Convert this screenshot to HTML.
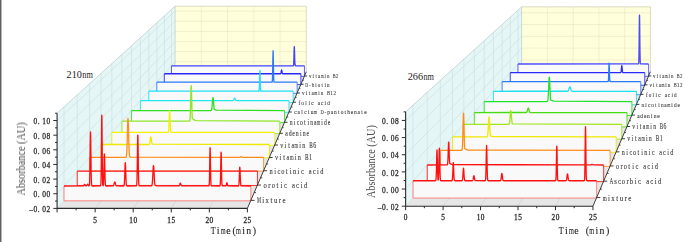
<!DOCTYPE html>
<html><head><meta charset="utf-8"><style>
html,body{margin:0;padding:0;background:#fff;}
body{width:685px;height:242px;overflow:hidden;position:relative;font-family:"Liberation Sans",sans-serif;}
svg{position:absolute;left:0;top:0;display:block;}
</style></head><body>
<svg width="685" height="242" viewBox="0 0 685 242">
<defs><filter id="tb" x="-20%" y="-50%" width="140%" height="200%"><feGaussianBlur stdDeviation="0.3"/></filter></defs>
<rect x="0" y="0" width="685" height="242" fill="#fff"/>
<rect x="0" y="0" width="1" height="242" fill="#5c6068"/>
<rect x="1" y="0" width="1" height="242" fill="#b4b6ba"/>
<polygon points="57.08,208.39 57.08,113.19 175.13,6.2 175.13,71.8" fill="#e5f6f6"/>
<polygon points="175.13,71.8 175.13,6.2 306.27,6.2 306.27,71.8" fill="#ffffdc"/>
<polygon points="57.08,208.39 247.38,208.39 306.27,71.8 175.13,71.8" fill="#e6e6e6"/>
<line x1="57.08" y1="208.39" x2="175.13" y2="71.8" stroke="#cadede" stroke-width="0.6"/>
<line x1="57.08" y1="193.74" x2="175.13" y2="61.71" stroke="#cadede" stroke-width="0.6"/>
<line x1="57.08" y1="179.09" x2="175.13" y2="51.61" stroke="#cadede" stroke-width="0.6"/>
<line x1="57.08" y1="164.45" x2="175.13" y2="41.52" stroke="#cadede" stroke-width="0.6"/>
<line x1="57.08" y1="149.8" x2="175.13" y2="31.43" stroke="#cadede" stroke-width="0.6"/>
<line x1="57.08" y1="135.16" x2="175.13" y2="21.34" stroke="#cadede" stroke-width="0.6"/>
<line x1="57.08" y1="120.51" x2="175.13" y2="11.24" stroke="#cadede" stroke-width="0.6"/>
<line x1="64.01" y1="200.37" x2="64.01" y2="106.91" stroke="#cadede" stroke-width="0.6"/>
<line x1="77.25" y1="185.05" x2="77.25" y2="94.91" stroke="#cadede" stroke-width="0.6"/>
<line x1="89.58" y1="170.78" x2="89.58" y2="83.73" stroke="#cadede" stroke-width="0.6"/>
<line x1="101.1" y1="157.46" x2="101.1" y2="73.3" stroke="#cadede" stroke-width="0.6"/>
<line x1="111.87" y1="144.99" x2="111.87" y2="63.53" stroke="#cadede" stroke-width="0.6"/>
<line x1="121.98" y1="133.3" x2="121.98" y2="54.37" stroke="#cadede" stroke-width="0.6"/>
<line x1="131.47" y1="122.31" x2="131.47" y2="45.76" stroke="#cadede" stroke-width="0.6"/>
<line x1="140.41" y1="111.97" x2="140.41" y2="37.66" stroke="#cadede" stroke-width="0.6"/>
<line x1="148.84" y1="102.21" x2="148.84" y2="30.02" stroke="#cadede" stroke-width="0.6"/>
<line x1="156.81" y1="93" x2="156.81" y2="22.8" stroke="#cadede" stroke-width="0.6"/>
<line x1="164.34" y1="84.28" x2="164.34" y2="15.97" stroke="#cadede" stroke-width="0.6"/>
<line x1="171.48" y1="76.02" x2="171.48" y2="9.5" stroke="#cadede" stroke-width="0.6"/>
<line x1="175.13" y1="71.8" x2="306.27" y2="71.8" stroke="#e6e6c4" stroke-width="0.6"/>
<line x1="175.13" y1="61.71" x2="306.27" y2="61.71" stroke="#e6e6c4" stroke-width="0.6"/>
<line x1="175.13" y1="51.61" x2="306.27" y2="51.61" stroke="#e6e6c4" stroke-width="0.6"/>
<line x1="175.13" y1="41.52" x2="306.27" y2="41.52" stroke="#e6e6c4" stroke-width="0.6"/>
<line x1="175.13" y1="31.43" x2="306.27" y2="31.43" stroke="#e6e6c4" stroke-width="0.6"/>
<line x1="175.13" y1="21.34" x2="306.27" y2="21.34" stroke="#e6e6c4" stroke-width="0.6"/>
<line x1="175.13" y1="11.24" x2="306.27" y2="11.24" stroke="#e6e6c4" stroke-width="0.6"/>
<line x1="201.36" y1="71.8" x2="201.36" y2="6.2" stroke="#e6e6c4" stroke-width="0.6"/>
<line x1="227.58" y1="71.8" x2="227.58" y2="6.2" stroke="#e6e6c4" stroke-width="0.6"/>
<line x1="253.81" y1="71.8" x2="253.81" y2="6.2" stroke="#e6e6c4" stroke-width="0.6"/>
<line x1="280.04" y1="71.8" x2="280.04" y2="6.2" stroke="#e6e6c4" stroke-width="0.6"/>
<line x1="95.14" y1="208.39" x2="201.36" y2="71.8" stroke="#cfcfcf" stroke-width="0.6"/>
<line x1="133.2" y1="208.39" x2="227.58" y2="71.8" stroke="#cfcfcf" stroke-width="0.6"/>
<line x1="171.26" y1="208.39" x2="253.81" y2="71.8" stroke="#cfcfcf" stroke-width="0.6"/>
<line x1="209.32" y1="208.39" x2="280.04" y2="71.8" stroke="#cfcfcf" stroke-width="0.6"/>
<line x1="57.08" y1="113.19" x2="175.13" y2="6.2" stroke="#b8c8c8" stroke-width="0.7"/>
<line x1="175.13" y1="6.2" x2="306.27" y2="6.2" stroke="#d6d6c0" stroke-width="0.9"/>
<line x1="306.27" y1="6.2" x2="306.27" y2="71.8" stroke="#d6d6c0" stroke-width="0.9"/>
<line x1="175.13" y1="6.2" x2="175.13" y2="71.8" stroke="#b8c8c8" stroke-width="0.7"/>
<polygon points="171.48,65.78 293.2,65.76 293.28,65.72 293.37,65.62 293.46,65.39 293.55,64.93 293.64,64.08 293.73,62.66 293.82,60.52 293.9,57.67 293.99,54.32 294.08,50.94 294.17,48.17 294.26,46.63 294.35,46.69 294.44,48.35 294.53,51.2 294.61,54.6 294.7,57.92 294.79,60.72 294.88,62.79 294.97,64.17 295.06,64.98 295.15,65.42 295.23,65.63 295.32,65.72 295.41,65.76 304.45,65.78 304.45,76.32 171.48,76.32" fill="#f9f9f9"/>
<polyline points="171.48,65.78 171.48,76.32 304.45,76.32 304.45,65.78" fill="none" stroke="#4242ff" stroke-width="1.0" opacity="0.85"/>
<polyline points="171.48,65.78 293.2,65.76 293.28,65.72 293.37,65.62 293.46,65.39 293.55,64.93 293.64,64.08 293.73,62.66 293.82,60.52 293.9,57.67 293.99,54.32 294.08,50.94 294.17,48.17 294.26,46.63 294.35,46.69 294.44,48.35 294.53,51.2 294.61,54.6 294.7,57.92 294.79,60.72 294.88,62.79 294.97,64.17 295.06,64.98 295.15,65.42 295.23,65.63 295.32,65.72 295.41,65.76 304.45,65.78" fill="none" stroke="#4242ff" stroke-width="1.3" stroke-linejoin="round"/>
<polygon points="164.34,73.77 280.5,73.74 280.59,73.71 280.68,73.65 280.77,73.54 280.86,73.35 280.95,73.07 281.05,72.68 281.14,72.18 281.23,71.6 281.32,71 281.41,70.47 281.5,70.1 281.59,69.95 281.68,70.06 281.77,70.39 281.87,70.9 281.96,71.49 282.05,72.08 282.14,72.6 282.23,73.01 282.32,73.31 282.41,73.51 282.5,73.63 282.59,73.7 282.68,73.74 300.89,73.77 300.89,84.59 164.34,84.59" fill="#f9f9f9"/>
<polyline points="164.34,73.77 164.34,84.59 300.89,84.59 300.89,73.77" fill="none" stroke="#2828f8" stroke-width="1.0" opacity="0.85"/>
<polyline points="164.34,73.77 280.5,73.74 280.59,73.71 280.68,73.65 280.77,73.54 280.86,73.35 280.95,73.07 281.05,72.68 281.14,72.18 281.23,71.6 281.32,71 281.41,70.47 281.5,70.1 281.59,69.95 281.68,70.06 281.77,70.39 281.87,70.9 281.96,71.49 282.05,72.08 282.14,72.6 282.23,73.01 282.32,73.31 282.41,73.51 282.5,73.63 282.59,73.7 282.68,73.74 300.89,73.77" fill="none" stroke="#2828f8" stroke-width="1.3" stroke-linejoin="round"/>
<polygon points="156.81,82.2 271.97,82.17 272.06,82.12 272.15,81.98 272.25,81.65 272.34,80.92 272.43,79.52 272.53,77.1 272.62,73.4 272.71,68.41 272.81,62.6 272.9,56.91 273,52.61 273.09,50.77 273.18,51.92 273.28,55.72 273.37,61.2 273.46,67.08 273.56,72.33 273.65,76.35 273.74,79.05 273.84,80.66 273.93,81.52 274.02,81.93 274.12,82.1 274.21,82.17 274.31,82.19 297.13,82.2 297.13,93.32 156.81,93.32" fill="#f9f9f9"/>
<polyline points="156.81,82.2 156.81,93.32 297.13,93.32 297.13,82.2" fill="none" stroke="#2a7af8" stroke-width="1.0" opacity="0.85"/>
<polyline points="156.81,82.2 271.97,82.17 272.06,82.12 272.15,81.98 272.25,81.65 272.34,80.92 272.43,79.52 272.53,77.1 272.62,73.4 272.71,68.41 272.81,62.6 272.9,56.91 273,52.61 273.09,50.77 273.18,51.92 273.28,55.72 273.37,61.2 273.46,67.08 273.56,72.33 273.65,76.35 273.74,79.05 273.84,80.66 273.93,81.52 274.02,81.93 274.12,82.1 274.21,82.17 274.31,82.19 297.13,82.2" fill="none" stroke="#2a7af8" stroke-width="1.3" stroke-linejoin="round"/>
<polygon points="148.84,91.11 258.81,91.08 258.91,91.02 259,90.87 259.1,90.52 259.2,89.8 259.29,88.47 259.39,86.3 259.48,83.21 259.58,79.41 259.68,75.46 259.77,72.23 259.87,70.56 259.96,70.93 260.06,73.23 260.16,76.81 260.25,80.79 260.35,84.39 260.45,87.17 260.54,89.02 260.64,90.11 260.73,90.68 260.83,90.94 260.93,91.05 261.02,91.09 293.16,91.11 293.16,102.55 148.84,102.55" fill="#f9f9f9"/>
<polyline points="148.84,91.11 148.84,102.55 293.16,102.55 293.16,91.11" fill="none" stroke="#22ddf8" stroke-width="1.0" opacity="0.85"/>
<polyline points="148.84,91.11 258.81,91.08 258.91,91.02 259,90.87 259.1,90.52 259.2,89.8 259.29,88.47 259.39,86.3 259.48,83.21 259.58,79.41 259.68,75.46 259.77,72.23 259.87,70.56 259.96,70.93 260.06,73.23 260.16,76.81 260.25,80.79 260.35,84.39 260.45,87.17 260.54,89.02 260.64,90.11 260.73,90.68 260.83,90.94 260.93,91.05 261.02,91.09 293.16,91.11" fill="none" stroke="#22ddf8" stroke-width="1.3" stroke-linejoin="round"/>
<polygon points="140.41,100.54 233,100.49 233.1,100.47 233.2,100.43 233.3,100.37 233.4,100.3 233.5,100.2 233.6,100.08 233.69,99.93 233.79,99.74 233.89,99.53 233.99,99.3 234.09,99.05 234.19,98.81 234.29,98.57 234.39,98.37 234.49,98.2 234.59,98.09 234.68,98.05 234.78,98.07 234.88,98.16 234.98,98.31 235.08,98.5 235.18,98.73 235.28,98.97 235.38,99.22 235.48,99.46 235.58,99.68 235.67,99.87 235.77,100.04 235.87,100.17 235.97,100.27 236.07,100.35 236.17,100.41 236.27,100.46 236.37,100.48 288.95,100.54 288.95,112.31 140.41,112.31" fill="#f9f9f9"/>
<polyline points="140.41,100.54 140.41,112.31 288.95,112.31 288.95,100.54" fill="none" stroke="#20e8ee" stroke-width="1.0" opacity="0.85"/>
<polyline points="140.41,100.54 233,100.49 233.1,100.47 233.2,100.43 233.3,100.37 233.4,100.3 233.5,100.2 233.6,100.08 233.69,99.93 233.79,99.74 233.89,99.53 233.99,99.3 234.09,99.05 234.19,98.81 234.29,98.57 234.39,98.37 234.49,98.2 234.59,98.09 234.68,98.05 234.78,98.07 234.88,98.16 234.98,98.31 235.08,98.5 235.18,98.73 235.28,98.97 235.38,99.22 235.48,99.46 235.58,99.68 235.67,99.87 235.77,100.04 235.87,100.17 235.97,100.27 236.07,100.35 236.17,100.41 236.27,100.46 236.37,100.48 288.95,100.54" fill="none" stroke="#20e8ee" stroke-width="1.3" stroke-linejoin="round"/>
<polygon points="131.47,110.54 210.94,110.5 211.04,110.47 211.14,110.43 211.25,110.35 211.35,110.24 211.45,110.07 211.55,109.83 211.65,109.49 211.76,109.02 211.86,108.41 211.96,107.65 212.06,106.71 212.16,105.62 212.27,104.39 212.37,103.08 212.47,101.75 212.57,100.47 212.67,99.33 212.78,98.42 212.88,97.82 212.98,97.56 213.08,97.67 213.18,98.15 213.29,98.94 213.39,100 213.49,101.23 213.59,102.56 213.69,103.88 213.8,105.15 213.9,106.3 214,107.3 214.1,108.13 214.2,108.8 214.31,109.32 214.41,109.43 214.51,109.47 214.61,109.51 214.71,109.55 214.82,109.59 214.92,109.63 215.02,109.67 215.12,109.7 215.22,109.74 215.33,109.77 215.43,109.8 215.53,109.83 215.63,109.86 215.73,109.88 215.84,109.91 215.94,109.93 216.04,109.96 216.14,109.98 216.24,110 216.35,110.02 216.45,110.04 284.49,110.54 284.49,122.67 131.47,122.67" fill="#f9f9f9"/>
<polyline points="131.47,110.54 131.47,122.67 284.49,122.67 284.49,110.54" fill="none" stroke="#30e020" stroke-width="1.0" opacity="0.85"/>
<polyline points="131.47,110.54 210.94,110.5 211.04,110.47 211.14,110.43 211.25,110.35 211.35,110.24 211.45,110.07 211.55,109.83 211.65,109.49 211.76,109.02 211.86,108.41 211.96,107.65 212.06,106.71 212.16,105.62 212.27,104.39 212.37,103.08 212.47,101.75 212.57,100.47 212.67,99.33 212.78,98.42 212.88,97.82 212.98,97.56 213.08,97.67 213.18,98.15 213.29,98.94 213.39,100 213.49,101.23 213.59,102.56 213.69,103.88 213.8,105.15 213.9,106.3 214,107.3 214.1,108.13 214.2,108.8 214.31,109.32 214.41,109.43 214.51,109.47 214.61,109.51 214.71,109.55 214.82,109.59 214.92,109.63 215.02,109.67 215.12,109.7 215.22,109.74 215.33,109.77 215.43,109.8 215.53,109.83 215.63,109.86 215.73,109.88 215.84,109.91 215.94,109.93 216.04,109.96 216.14,109.98 216.24,110 216.35,110.02 216.45,110.04 284.49,110.54" fill="none" stroke="#30e020" stroke-width="1.3" stroke-linejoin="round"/>
<polygon points="121.98,121.16 189.29,121.13 189.4,121.1 189.5,121.04 189.61,120.93 189.72,120.72 189.82,120.37 189.93,119.78 190.03,118.85 190.14,117.47 190.24,115.51 190.35,112.89 190.45,109.58 190.56,105.64 190.66,101.26 190.77,96.75 190.87,92.51 190.98,89 191.08,86.61 191.19,85.66 191.29,86.26 191.4,88.33 191.5,91.62 191.61,95.73 191.71,100.21 191.82,104.65 191.92,108.72 192.03,112.18 192.13,114.97 192.24,117.07 192.34,118.47 192.45,118.58 192.56,118.68 192.66,118.78 192.77,118.88 192.87,118.97 192.98,119.06 193.08,119.15 193.19,119.23 193.29,119.31 193.4,119.39 193.5,119.46 193.61,119.53 193.71,119.6 193.82,119.66 193.92,119.72 194.03,119.78 194.13,119.84 194.24,119.89 194.34,119.94 194.45,119.99 194.55,120.04 194.66,120.09 194.76,120.13 194.87,120.17 194.97,120.21 195.08,120.25 195.18,120.29 195.29,120.33 195.4,120.36 195.5,120.39 195.61,120.42 195.71,120.45 195.82,120.48 195.92,120.51 196.03,120.54 196.13,120.56 196.24,120.59 196.34,120.61 196.45,120.63 196.55,120.65 196.66,120.68 279.75,121.16 279.75,133.66 121.98,133.66" fill="#f9f9f9"/>
<polyline points="121.98,121.16 121.98,133.66 279.75,133.66 279.75,121.16" fill="none" stroke="#90e628" stroke-width="1.0" opacity="0.85"/>
<polyline points="121.98,121.16 189.29,121.13 189.4,121.1 189.5,121.04 189.61,120.93 189.72,120.72 189.82,120.37 189.93,119.78 190.03,118.85 190.14,117.47 190.24,115.51 190.35,112.89 190.45,109.58 190.56,105.64 190.66,101.26 190.77,96.75 190.87,92.51 190.98,89 191.08,86.61 191.19,85.66 191.29,86.26 191.4,88.33 191.5,91.62 191.61,95.73 191.71,100.21 191.82,104.65 191.92,108.72 192.03,112.18 192.13,114.97 192.24,117.07 192.34,118.47 192.45,118.58 192.56,118.68 192.66,118.78 192.77,118.88 192.87,118.97 192.98,119.06 193.08,119.15 193.19,119.23 193.29,119.31 193.4,119.39 193.5,119.46 193.61,119.53 193.71,119.6 193.82,119.66 193.92,119.72 194.03,119.78 194.13,119.84 194.24,119.89 194.34,119.94 194.45,119.99 194.55,120.04 194.66,120.09 194.76,120.13 194.87,120.17 194.97,120.21 195.08,120.25 195.18,120.29 195.29,120.33 195.4,120.36 195.5,120.39 195.61,120.42 195.71,120.45 195.82,120.48 195.92,120.51 196.03,120.54 196.13,120.56 196.24,120.59 196.34,120.61 196.45,120.63 196.55,120.65 196.66,120.68 279.75,121.16" fill="none" stroke="#90e628" stroke-width="1.3" stroke-linejoin="round"/>
<polygon points="111.87,132.46 167.89,132.44 168,132.42 168.11,132.37 168.21,132.27 168.32,132.07 168.43,131.71 168.54,131.11 168.65,130.14 168.76,128.71 168.87,126.73 168.97,124.21 169.08,121.25 169.19,118.09 169.3,115.08 169.41,112.63 169.52,111.12 169.63,110.78 169.73,111.69 169.84,113.68 169.95,116.44 170.06,119.57 170.17,122.67 170.28,125.45 170.39,127.72 170.49,129.44 170.6,130.64 170.71,131.43 170.82,131.91 170.93,132.18 171.04,132.33 171.15,132.4 171.25,132.43 274.71,132.46 274.71,145.37 111.87,145.37" fill="#f9f9f9"/>
<polyline points="111.87,132.46 111.87,145.37 274.71,145.37 274.71,132.46" fill="none" stroke="#f2f200" stroke-width="1.0" opacity="0.85"/>
<polyline points="111.87,132.46 167.89,132.44 168,132.42 168.11,132.37 168.21,132.27 168.32,132.07 168.43,131.71 168.54,131.11 168.65,130.14 168.76,128.71 168.87,126.73 168.97,124.21 169.08,121.25 169.19,118.09 169.3,115.08 169.41,112.63 169.52,111.12 169.63,110.78 169.73,111.69 169.84,113.68 169.95,116.44 170.06,119.57 170.17,122.67 170.28,125.45 170.39,127.72 170.49,129.44 170.6,130.64 170.71,131.43 170.82,131.91 170.93,132.18 171.04,132.33 171.15,132.4 171.25,132.43 274.71,132.46" fill="none" stroke="#f2f200" stroke-width="1.3" stroke-linejoin="round"/>
<polygon points="101.1,144.51 148.76,144.49 148.88,144.46 148.99,144.43 149.1,144.37 149.21,144.28 149.32,144.14 149.44,143.93 149.55,143.64 149.66,143.25 149.77,142.74 149.89,142.11 150,141.38 150.11,140.56 150.22,139.69 150.33,138.84 150.45,138.07 150.56,137.45 150.67,137.03 150.78,136.85 150.89,136.95 151.01,137.29 151.12,137.86 151.23,138.6 151.34,139.43 151.46,140.29 151.57,141.13 151.68,141.9 151.79,142.56 151.9,143.1 152.02,143.53 152.13,143.85 152.24,144.08 152.35,144.16 269.34,144.51 269.34,157.85 101.1,157.85" fill="#f9f9f9"/>
<polyline points="101.1,144.51 101.1,157.85 269.34,157.85 269.34,144.51" fill="none" stroke="#f0e800" stroke-width="1.0" opacity="0.85"/>
<polyline points="101.1,144.51 148.76,144.49 148.88,144.46 148.99,144.43 149.1,144.37 149.21,144.28 149.32,144.14 149.44,143.93 149.55,143.64 149.66,143.25 149.77,142.74 149.89,142.11 150,141.38 150.11,140.56 150.22,139.69 150.33,138.84 150.45,138.07 150.56,137.45 150.67,137.03 150.78,136.85 150.89,136.95 151.01,137.29 151.12,137.86 151.23,138.6 151.34,139.43 151.46,140.29 151.57,141.13 151.68,141.9 151.79,142.56 151.9,143.1 152.02,143.53 152.13,143.85 152.24,144.08 152.35,144.16 269.34,144.51" fill="none" stroke="#f0e800" stroke-width="1.3" stroke-linejoin="round"/>
<polygon points="89.58,157.39 125.66,157.37 125.78,157.35 125.89,157.31 126.01,157.23 126.12,157.09 126.24,156.86 126.36,156.48 126.47,155.87 126.59,154.94 126.7,153.6 126.82,151.75 126.94,149.29 127.05,146.19 127.17,142.47 127.28,138.24 127.4,133.72 127.52,129.2 127.63,125.05 127.75,121.65 127.86,119.34 127.98,118.37 128.1,118.84 128.21,120.71 128.33,123.76 128.44,127.69 128.56,132.13 128.68,136.69 128.79,141.05 128.91,144.96 129.02,148.28 129.14,150.96 129.26,153.02 129.37,154.53 129.49,155.58 129.6,156.29 129.72,156.75 129.84,156.88 129.95,156.93 130.07,156.97 130.18,157.01 130.3,157.04 130.42,157.08 130.53,157.1 130.65,157.13 130.76,157.15 130.88,157.18 239.23,157.33 239.35,157.31 239.46,157.29 239.58,157.26 239.69,157.22 239.81,157.18 239.93,157.13 240.04,157.08 240.16,157.02 240.27,156.96 240.39,156.91 240.51,156.86 240.62,156.82 240.74,156.78 240.85,156.76 241.2,156.77 241.32,156.8 241.43,156.84 241.55,156.88 241.67,156.94 241.78,156.99 241.9,157.05 242.02,157.1 242.13,157.15 242.25,157.2 242.36,157.24 242.48,157.27 242.6,157.3 242.71,157.32 263.59,157.39 263.59,171.18 89.58,171.18" fill="#f9f9f9"/>
<polyline points="89.58,157.39 89.58,171.18 263.59,171.18 263.59,157.39" fill="none" stroke="#ff8c1a" stroke-width="1.0" opacity="0.85"/>
<polyline points="89.58,157.39 125.66,157.37 125.78,157.35 125.89,157.31 126.01,157.23 126.12,157.09 126.24,156.86 126.36,156.48 126.47,155.87 126.59,154.94 126.7,153.6 126.82,151.75 126.94,149.29 127.05,146.19 127.17,142.47 127.28,138.24 127.4,133.72 127.52,129.2 127.63,125.05 127.75,121.65 127.86,119.34 127.98,118.37 128.1,118.84 128.21,120.71 128.33,123.76 128.44,127.69 128.56,132.13 128.68,136.69 128.79,141.05 128.91,144.96 129.02,148.28 129.14,150.96 129.26,153.02 129.37,154.53 129.49,155.58 129.6,156.29 129.72,156.75 129.84,156.88 129.95,156.93 130.07,156.97 130.18,157.01 130.3,157.04 130.42,157.08 130.53,157.1 130.65,157.13 130.76,157.15 130.88,157.18 239.23,157.33 239.35,157.31 239.46,157.29 239.58,157.26 239.69,157.22 239.81,157.18 239.93,157.13 240.04,157.08 240.16,157.02 240.27,156.96 240.39,156.91 240.51,156.86 240.62,156.82 240.74,156.78 240.85,156.76 241.2,156.77 241.32,156.8 241.43,156.84 241.55,156.88 241.67,156.94 241.78,156.99 241.9,157.05 242.02,157.1 242.13,157.15 242.25,157.2 242.36,157.24 242.48,157.27 242.6,157.3 242.71,157.32 263.59,157.39" fill="none" stroke="#ff8c1a" stroke-width="1.3" stroke-linejoin="round"/>
<polygon points="77.25,171.18 257.44,171.18 257.44,185.46 77.25,185.46" fill="#f9f9f9"/>
<polyline points="77.25,171.18 77.25,185.46 257.44,185.46 257.44,171.18" fill="none" stroke="#ff1010" stroke-width="1.0" opacity="0.85"/>
<polyline points="77.25,171.18 257.44,171.18" fill="none" stroke="#ff1010" stroke-width="1.3" stroke-linejoin="round"/>
<polygon points="64.01,185.99 83.19,185.96 83.31,185.93 83.44,185.88 83.56,185.8 83.69,185.68 83.81,185.52 83.94,185.31 84.06,185.07 84.19,184.83 84.31,184.6 84.44,184.44 84.56,184.36 84.68,184.37 84.81,184.49 84.93,184.68 85.06,184.91 85.18,185.16 85.31,185.39 85.43,185.58 85.56,185.73 85.68,185.83 85.81,185.9 85.93,185.94 86.18,185.95 86.3,185.92 86.43,185.87 86.55,185.78 86.68,185.65 86.8,185.48 86.93,185.25 87.05,184.98 87.18,184.71 87.3,184.45 87.42,184.26 87.55,184.16 87.67,184.17 87.8,184.29 87.92,184.5 88.05,184.76 88.17,185.03 88.3,185.29 88.42,185.51 88.55,185.68 88.67,185.8 88.79,185.88 88.92,185.91 89.04,185.89 89.17,185.76 89.29,185.41 89.42,184.6 89.54,182.91 89.67,179.81 89.79,174.72 89.92,167.34 90.04,157.99 90.16,147.83 90.29,138.79 90.41,133 90.54,132 90.66,136.06 90.79,144.09 90.91,154.07 91.04,163.92 91.16,172.14 91.29,178.1 91.41,181.91 91.53,184.08 91.66,185.18 91.78,185.68 91.91,185.88 92.03,185.95 92.16,185.98 100.38,185.97 100.5,185.92 100.63,185.73 100.75,185.18 100.88,183.79 101,180.72 101.13,174.83 101.25,165.19 101.37,151.82 101.5,136.54 101.62,122.93 101.75,115.14 101.87,115.86 102,124.83 102.12,139 102.25,154.18 102.37,167.02 102.5,176.02 102.62,181.37 102.74,184.1 102.87,185.29 102.99,185.71 103.12,185.74 103.24,185.48 103.37,184.84 103.49,183.54 103.62,181.25 103.74,177.68 103.87,172.76 103.99,166.88 104.11,160.93 104.24,156.17 104.36,153.79 104.49,154.42 104.61,157.9 104.74,163.31 104.86,169.37 104.99,174.93 105.11,179.32 105.24,182.33 105.36,184.17 105.48,185.17 105.61,185.65 105.73,185.87 105.86,185.95 105.98,185.98 112.96,185.95 113.08,185.92 113.21,185.87 113.33,185.79 113.46,185.66 113.58,185.48 113.7,185.23 113.83,184.9 113.95,184.5 114.08,184.03 114.2,183.53 114.33,183.03 114.45,182.58 114.58,182.22 114.7,182 114.83,181.95 114.95,182.07 115.07,182.35 115.2,182.75 115.32,183.23 115.45,183.74 115.57,184.23 115.7,184.67 115.82,185.04 115.95,185.34 116.07,185.56 116.2,185.72 116.32,185.83 116.44,185.9 116.57,185.94 116.69,185.96 123.54,185.98 123.67,185.96 123.79,185.9 123.92,185.78 124.04,185.52 124.17,185.01 124.29,184.09 124.42,182.59 124.54,180.35 124.67,177.33 124.79,173.67 124.91,169.76 125.04,166.19 125.16,163.61 125.29,162.56 125.41,163.27 125.54,165.58 125.66,169.01 125.79,172.91 125.91,176.65 126.04,179.82 126.16,182.21 126.28,183.85 126.41,184.86 126.53,185.44 126.66,185.74 126.78,185.89 126.91,185.95 127.03,185.98 136.25,185.96 136.37,185.9 136.5,185.73 136.62,185.32 136.75,184.39 136.87,182.53 137,179.2 137.12,173.88 137.24,166.41 137.37,157.25 137.49,147.7 137.62,139.69 137.74,135.17 137.87,135.37 137.99,140.23 138.12,148.44 138.24,158.03 138.37,167.09 138.49,174.4 138.61,179.54 138.74,182.73 138.86,184.49 138.99,185.37 139.11,185.75 139.24,185.91 139.36,185.96 151.32,185.96 151.44,185.93 151.57,185.88 151.69,185.77 151.82,185.59 151.94,185.29 152.07,184.81 152.19,184.09 152.32,183.07 152.44,181.68 152.56,179.9 152.69,177.75 152.81,175.32 152.94,172.75 153.06,170.25 153.19,168.06 153.31,166.44 153.44,165.57 153.56,165.55 153.69,166.41 153.81,168.01 153.93,170.18 154.06,172.68 154.18,175.25 154.31,177.69 154.43,179.85 154.56,181.64 154.68,183.04 154.81,184.07 154.93,184.79 155.06,185.28 155.18,185.45 155.3,185.5 155.43,185.54 155.55,185.57 155.68,185.61 155.8,185.64 155.93,185.66 156.05,185.69 156.18,185.71 156.3,185.74 156.43,185.76 178.72,185.97 178.84,185.95 178.97,185.91 179.09,185.84 179.22,185.72 179.34,185.54 179.47,185.28 179.59,184.95 179.72,184.55 179.84,184.13 179.97,183.72 180.09,183.39 180.21,183.19 180.34,183.16 180.46,183.3 180.59,183.58 180.71,183.97 180.84,184.4 180.96,184.81 181.09,185.17 181.21,185.45 181.34,185.66 181.46,185.8 181.58,185.89 181.71,185.94 181.83,185.96 208.74,185.97 208.86,185.92 208.99,185.75 209.11,185.29 209.23,184.19 209.36,181.91 209.48,177.85 209.61,171.7 209.73,163.88 209.86,155.84 209.98,149.77 210.11,147.66 210.23,150.24 210.36,156.62 210.48,164.73 210.6,172.43 210.73,178.37 210.85,182.22 210.98,184.35 211.1,185.36 211.23,185.78 211.35,185.93 211.48,185.97 219.7,185.98 219.82,185.95 219.95,185.84 220.07,185.54 220.2,184.79 220.32,183.16 220.44,180.11 220.57,175.24 220.69,168.66 220.82,161.4 220.94,155.23 221.07,152.1 221.19,153.09 221.32,157.85 221.44,164.79 221.57,171.91 221.69,177.75 221.81,181.75 221.94,184.06 222.06,185.22 222.19,185.72 222.31,185.91 222.44,185.97 225.68,185.96 225.8,185.92 225.92,185.82 226.05,185.65 226.17,185.37 226.3,184.95 226.42,184.4 226.55,183.79 226.67,183.24 226.8,182.86 226.92,182.75 227.05,182.96 227.17,183.41 227.29,184 227.42,184.59 227.54,185.1 227.67,185.48 227.79,185.72 227.92,185.86 228.04,185.93 228.17,185.97 238.25,185.98 238.38,185.96 238.5,185.89 238.63,185.73 238.75,185.37 238.88,184.66 239,183.4 239.13,181.4 239.25,178.6 239.38,175.2 239.5,171.68 239.62,168.78 239.75,167.2 239.87,167.37 240,169.24 240.12,172.32 240.25,175.86 240.37,179.18 240.5,181.84 240.62,183.69 240.75,184.83 240.87,185.46 240.99,185.77 241.12,185.91 241.24,185.96 250.83,185.99 250.83,200.8 64.01,200.8" fill="#f9f9f9"/>
<polyline points="64.01,185.99 64.01,200.8 250.83,200.8 250.83,185.99" fill="none" stroke="#ff7070" stroke-width="1.0" opacity="0.85"/>
<polyline points="64.01,185.99 83.19,185.96 83.31,185.93 83.44,185.88 83.56,185.8 83.69,185.68 83.81,185.52 83.94,185.31 84.06,185.07 84.19,184.83 84.31,184.6 84.44,184.44 84.56,184.36 84.68,184.37 84.81,184.49 84.93,184.68 85.06,184.91 85.18,185.16 85.31,185.39 85.43,185.58 85.56,185.73 85.68,185.83 85.81,185.9 85.93,185.94 86.18,185.95 86.3,185.92 86.43,185.87 86.55,185.78 86.68,185.65 86.8,185.48 86.93,185.25 87.05,184.98 87.18,184.71 87.3,184.45 87.42,184.26 87.55,184.16 87.67,184.17 87.8,184.29 87.92,184.5 88.05,184.76 88.17,185.03 88.3,185.29 88.42,185.51 88.55,185.68 88.67,185.8 88.79,185.88 88.92,185.91 89.04,185.89 89.17,185.76 89.29,185.41 89.42,184.6 89.54,182.91 89.67,179.81 89.79,174.72 89.92,167.34 90.04,157.99 90.16,147.83 90.29,138.79 90.41,133 90.54,132 90.66,136.06 90.79,144.09 90.91,154.07 91.04,163.92 91.16,172.14 91.29,178.1 91.41,181.91 91.53,184.08 91.66,185.18 91.78,185.68 91.91,185.88 92.03,185.95 92.16,185.98 100.38,185.97 100.5,185.92 100.63,185.73 100.75,185.18 100.88,183.79 101,180.72 101.13,174.83 101.25,165.19 101.37,151.82 101.5,136.54 101.62,122.93 101.75,115.14 101.87,115.86 102,124.83 102.12,139 102.25,154.18 102.37,167.02 102.5,176.02 102.62,181.37 102.74,184.1 102.87,185.29 102.99,185.71 103.12,185.74 103.24,185.48 103.37,184.84 103.49,183.54 103.62,181.25 103.74,177.68 103.87,172.76 103.99,166.88 104.11,160.93 104.24,156.17 104.36,153.79 104.49,154.42 104.61,157.9 104.74,163.31 104.86,169.37 104.99,174.93 105.11,179.32 105.24,182.33 105.36,184.17 105.48,185.17 105.61,185.65 105.73,185.87 105.86,185.95 105.98,185.98 112.96,185.95 113.08,185.92 113.21,185.87 113.33,185.79 113.46,185.66 113.58,185.48 113.7,185.23 113.83,184.9 113.95,184.5 114.08,184.03 114.2,183.53 114.33,183.03 114.45,182.58 114.58,182.22 114.7,182 114.83,181.95 114.95,182.07 115.07,182.35 115.2,182.75 115.32,183.23 115.45,183.74 115.57,184.23 115.7,184.67 115.82,185.04 115.95,185.34 116.07,185.56 116.2,185.72 116.32,185.83 116.44,185.9 116.57,185.94 116.69,185.96 123.54,185.98 123.67,185.96 123.79,185.9 123.92,185.78 124.04,185.52 124.17,185.01 124.29,184.09 124.42,182.59 124.54,180.35 124.67,177.33 124.79,173.67 124.91,169.76 125.04,166.19 125.16,163.61 125.29,162.56 125.41,163.27 125.54,165.58 125.66,169.01 125.79,172.91 125.91,176.65 126.04,179.82 126.16,182.21 126.28,183.85 126.41,184.86 126.53,185.44 126.66,185.74 126.78,185.89 126.91,185.95 127.03,185.98 136.25,185.96 136.37,185.9 136.5,185.73 136.62,185.32 136.75,184.39 136.87,182.53 137,179.2 137.12,173.88 137.24,166.41 137.37,157.25 137.49,147.7 137.62,139.69 137.74,135.17 137.87,135.37 137.99,140.23 138.12,148.44 138.24,158.03 138.37,167.09 138.49,174.4 138.61,179.54 138.74,182.73 138.86,184.49 138.99,185.37 139.11,185.75 139.24,185.91 139.36,185.96 151.32,185.96 151.44,185.93 151.57,185.88 151.69,185.77 151.82,185.59 151.94,185.29 152.07,184.81 152.19,184.09 152.32,183.07 152.44,181.68 152.56,179.9 152.69,177.75 152.81,175.32 152.94,172.75 153.06,170.25 153.19,168.06 153.31,166.44 153.44,165.57 153.56,165.55 153.69,166.41 153.81,168.01 153.93,170.18 154.06,172.68 154.18,175.25 154.31,177.69 154.43,179.85 154.56,181.64 154.68,183.04 154.81,184.07 154.93,184.79 155.06,185.28 155.18,185.45 155.3,185.5 155.43,185.54 155.55,185.57 155.68,185.61 155.8,185.64 155.93,185.66 156.05,185.69 156.18,185.71 156.3,185.74 156.43,185.76 178.72,185.97 178.84,185.95 178.97,185.91 179.09,185.84 179.22,185.72 179.34,185.54 179.47,185.28 179.59,184.95 179.72,184.55 179.84,184.13 179.97,183.72 180.09,183.39 180.21,183.19 180.34,183.16 180.46,183.3 180.59,183.58 180.71,183.97 180.84,184.4 180.96,184.81 181.09,185.17 181.21,185.45 181.34,185.66 181.46,185.8 181.58,185.89 181.71,185.94 181.83,185.96 208.74,185.97 208.86,185.92 208.99,185.75 209.11,185.29 209.23,184.19 209.36,181.91 209.48,177.85 209.61,171.7 209.73,163.88 209.86,155.84 209.98,149.77 210.11,147.66 210.23,150.24 210.36,156.62 210.48,164.73 210.6,172.43 210.73,178.37 210.85,182.22 210.98,184.35 211.1,185.36 211.23,185.78 211.35,185.93 211.48,185.97 219.7,185.98 219.82,185.95 219.95,185.84 220.07,185.54 220.2,184.79 220.32,183.16 220.44,180.11 220.57,175.24 220.69,168.66 220.82,161.4 220.94,155.23 221.07,152.1 221.19,153.09 221.32,157.85 221.44,164.79 221.57,171.91 221.69,177.75 221.81,181.75 221.94,184.06 222.06,185.22 222.19,185.72 222.31,185.91 222.44,185.97 225.68,185.96 225.8,185.92 225.92,185.82 226.05,185.65 226.17,185.37 226.3,184.95 226.42,184.4 226.55,183.79 226.67,183.24 226.8,182.86 226.92,182.75 227.05,182.96 227.17,183.41 227.29,184 227.42,184.59 227.54,185.1 227.67,185.48 227.79,185.72 227.92,185.86 228.04,185.93 228.17,185.97 238.25,185.98 238.38,185.96 238.5,185.89 238.63,185.73 238.75,185.37 238.88,184.66 239,183.4 239.13,181.4 239.25,178.6 239.38,175.2 239.5,171.68 239.62,168.78 239.75,167.2 239.87,167.37 240,169.24 240.12,172.32 240.25,175.86 240.37,179.18 240.5,181.84 240.62,183.69 240.75,184.83 240.87,185.46 240.99,185.77 241.12,185.91 241.24,185.96 250.83,185.99" fill="none" stroke="#ff1010" stroke-width="1.3" stroke-linejoin="round"/>
<line x1="57.08" y1="208.39" x2="57.08" y2="113.19" stroke="#2a2a2a" stroke-width="1.1"/>
<line x1="57.08" y1="208.39" x2="247.38" y2="208.39" stroke="#2a2a2a" stroke-width="1.1"/>
<line x1="247.38" y1="208.39" x2="306.27" y2="71.8" stroke="#2a2a2a" stroke-width="0.9"/>
<line x1="57.08" y1="208.39" x2="53.28" y2="208.39" stroke="#2a2a2a" stroke-width="1"/>
<line x1="57.08" y1="201.06" x2="55.08" y2="201.06" stroke="#2a2a2a" stroke-width="1"/>
<line x1="57.08" y1="193.74" x2="53.28" y2="193.74" stroke="#2a2a2a" stroke-width="1"/>
<line x1="57.08" y1="186.42" x2="55.08" y2="186.42" stroke="#2a2a2a" stroke-width="1"/>
<line x1="57.08" y1="179.09" x2="53.28" y2="179.09" stroke="#2a2a2a" stroke-width="1"/>
<line x1="57.08" y1="171.77" x2="55.08" y2="171.77" stroke="#2a2a2a" stroke-width="1"/>
<line x1="57.08" y1="164.45" x2="53.28" y2="164.45" stroke="#2a2a2a" stroke-width="1"/>
<line x1="57.08" y1="157.13" x2="55.08" y2="157.13" stroke="#2a2a2a" stroke-width="1"/>
<line x1="57.08" y1="149.8" x2="53.28" y2="149.8" stroke="#2a2a2a" stroke-width="1"/>
<line x1="57.08" y1="142.48" x2="55.08" y2="142.48" stroke="#2a2a2a" stroke-width="1"/>
<line x1="57.08" y1="135.16" x2="53.28" y2="135.16" stroke="#2a2a2a" stroke-width="1"/>
<line x1="57.08" y1="127.84" x2="55.08" y2="127.84" stroke="#2a2a2a" stroke-width="1"/>
<line x1="57.08" y1="120.51" x2="53.28" y2="120.51" stroke="#2a2a2a" stroke-width="1"/>
<line x1="57.08" y1="113.19" x2="55.08" y2="113.19" stroke="#2a2a2a" stroke-width="1"/>
<line x1="57.08" y1="208.39" x2="57.08" y2="212.39" stroke="#2a2a2a" stroke-width="1"/>
<line x1="76.11" y1="208.39" x2="76.11" y2="210.39" stroke="#2a2a2a" stroke-width="1"/>
<line x1="95.14" y1="208.39" x2="95.14" y2="212.39" stroke="#2a2a2a" stroke-width="1"/>
<line x1="114.17" y1="208.39" x2="114.17" y2="210.39" stroke="#2a2a2a" stroke-width="1"/>
<line x1="133.2" y1="208.39" x2="133.2" y2="212.39" stroke="#2a2a2a" stroke-width="1"/>
<line x1="152.23" y1="208.39" x2="152.23" y2="210.39" stroke="#2a2a2a" stroke-width="1"/>
<line x1="171.26" y1="208.39" x2="171.26" y2="212.39" stroke="#2a2a2a" stroke-width="1"/>
<line x1="190.29" y1="208.39" x2="190.29" y2="210.39" stroke="#2a2a2a" stroke-width="1"/>
<line x1="209.32" y1="208.39" x2="209.32" y2="212.39" stroke="#2a2a2a" stroke-width="1"/>
<line x1="228.35" y1="208.39" x2="228.35" y2="210.39" stroke="#2a2a2a" stroke-width="1"/>
<line x1="247.38" y1="208.39" x2="247.38" y2="212.39" stroke="#2a2a2a" stroke-width="1"/>
<line x1="250.83" y1="200.37" x2="254.57" y2="200.37" stroke="#2a2a2a" stroke-width="0.9"/>
<line x1="257.44" y1="185.05" x2="261.04" y2="185.05" stroke="#2a2a2a" stroke-width="0.9"/>
<line x1="263.59" y1="170.78" x2="267.07" y2="170.78" stroke="#2a2a2a" stroke-width="0.9"/>
<line x1="269.34" y1="157.46" x2="272.7" y2="157.46" stroke="#2a2a2a" stroke-width="0.9"/>
<line x1="274.71" y1="144.99" x2="277.96" y2="144.99" stroke="#2a2a2a" stroke-width="0.9"/>
<line x1="279.75" y1="133.3" x2="282.9" y2="133.3" stroke="#2a2a2a" stroke-width="0.9"/>
<line x1="284.49" y1="122.31" x2="287.55" y2="122.31" stroke="#2a2a2a" stroke-width="0.9"/>
<line x1="288.95" y1="111.97" x2="291.92" y2="111.97" stroke="#2a2a2a" stroke-width="0.9"/>
<line x1="293.16" y1="102.21" x2="296.04" y2="102.21" stroke="#2a2a2a" stroke-width="0.9"/>
<line x1="297.13" y1="93" x2="299.93" y2="93" stroke="#2a2a2a" stroke-width="0.9"/>
<line x1="300.89" y1="84.28" x2="303.62" y2="84.28" stroke="#2a2a2a" stroke-width="0.9"/>
<line x1="304.45" y1="76.02" x2="307.11" y2="76.02" stroke="#2a2a2a" stroke-width="0.9"/>
<line x1="254.2" y1="192.57" x2="256.03" y2="192.57" stroke="#2a2a2a" stroke-width="0.8"/>
<line x1="260.57" y1="177.79" x2="262.34" y2="177.79" stroke="#2a2a2a" stroke-width="0.8"/>
<line x1="266.51" y1="164.01" x2="268.22" y2="164.01" stroke="#2a2a2a" stroke-width="0.8"/>
<line x1="272.07" y1="151.12" x2="273.72" y2="151.12" stroke="#2a2a2a" stroke-width="0.8"/>
<line x1="277.27" y1="139.05" x2="278.87" y2="139.05" stroke="#2a2a2a" stroke-width="0.8"/>
<line x1="282.16" y1="127.72" x2="283.71" y2="127.72" stroke="#2a2a2a" stroke-width="0.8"/>
<line x1="286.75" y1="117.06" x2="288.26" y2="117.06" stroke="#2a2a2a" stroke-width="0.8"/>
<line x1="291.08" y1="107.02" x2="292.55" y2="107.02" stroke="#2a2a2a" stroke-width="0.8"/>
<line x1="295.17" y1="97.54" x2="296.59" y2="97.54" stroke="#2a2a2a" stroke-width="0.8"/>
<line x1="299.04" y1="88.58" x2="300.42" y2="88.58" stroke="#2a2a2a" stroke-width="0.8"/>
<line x1="302.7" y1="80.09" x2="304.04" y2="80.09" stroke="#2a2a2a" stroke-width="0.8"/>
<g transform="translate(256.82,203.41)" font-family="Liberation Serif" font-size="8.84" fill="#404040" stroke="#404040" stroke-width="0.15" filter="url(#tb)"><text transform="translate(0.08,0) scale(0.512,1)">M</text><text transform="translate(5.33,0) scale(0.778,1)">i</text><text transform="translate(8.76,0) scale(0.778,1)">x</text><text transform="translate(13.72,0) scale(0.778,1)">t</text><text transform="translate(17.15,0) scale(0.778,1)">u</text><text transform="translate(21.91,0) scale(0.778,1)">r</text><text transform="translate(25.72,0) scale(0.778,1)">e</text></g>
<g transform="translate(263.22,187.99)" font-family="Liberation Serif" font-size="8.52" fill="#404040" stroke="#404040" stroke-width="0.14" filter="url(#tb)"><text transform="translate(0.36,0) scale(0.778,1)">o</text><text transform="translate(4.96,0) scale(0.778,1)">r</text><text transform="translate(8.45,0) scale(0.778,1)">o</text><text transform="translate(13.23,0) scale(0.778,1)">t</text><text transform="translate(17.27,0) scale(0.778,1)">i</text><text transform="translate(20.77,0) scale(0.778,1)">c</text><text transform="translate(28.85,0) scale(0.778,1)">a</text><text transform="translate(32.9,0) scale(0.778,1)">c</text><text transform="translate(37.49,0) scale(0.778,1)">i</text><text transform="translate(40.8,0) scale(0.778,1)">d</text></g>
<g transform="translate(269.17,173.62)" font-family="Liberation Serif" font-size="8.23" fill="#404040" stroke="#404040" stroke-width="0.14" filter="url(#tb)"><text transform="translate(0.35,0) scale(0.778,1)">n</text><text transform="translate(4.97,0) scale(0.778,1)">i</text><text transform="translate(8.34,0) scale(0.778,1)">c</text><text transform="translate(12.07,0) scale(0.778,1)">o</text><text transform="translate(16.68,0) scale(0.778,1)">t</text><text transform="translate(20.59,0) scale(0.778,1)">i</text><text transform="translate(23.78,0) scale(0.778,1)">n</text><text transform="translate(28.39,0) scale(0.778,1)">i</text><text transform="translate(31.77,0) scale(0.778,1)">c</text><text transform="translate(39.58,0) scale(0.778,1)">a</text><text transform="translate(43.48,0) scale(0.778,1)">c</text><text transform="translate(47.92,0) scale(0.778,1)">i</text><text transform="translate(51.11,0) scale(0.778,1)">d</text></g>
<g transform="translate(274.73,160.21)" font-family="Liberation Serif" font-size="7.96" fill="#404040" stroke="#404040" stroke-width="0.13" filter="url(#tb)"><text transform="translate(0.34,0) scale(0.778,1)">v</text><text transform="translate(4.8,0) scale(0.778,1)">i</text><text transform="translate(8.58,0) scale(0.778,1)">t</text><text transform="translate(11.84,0) scale(0.778,1)">a</text><text transform="translate(15.18,0) scale(0.586,1)">m</text><text transform="translate(19.9,0) scale(0.778,1)">i</text><text transform="translate(22.99,0) scale(0.778,1)">n</text><text transform="translate(30.28,0) scale(0.683,1)">B</text><text transform="translate(34.32,0) scale(0.778,1)">1</text></g>
<g transform="translate(279.93,147.66)" font-family="Liberation Serif" font-size="7.7" fill="#404040" stroke="#404040" stroke-width="0.13" filter="url(#tb)"><text transform="translate(0.33,0) scale(0.778,1)">v</text><text transform="translate(4.65,0) scale(0.778,1)">i</text><text transform="translate(8.3,0) scale(0.778,1)">t</text><text transform="translate(11.46,0) scale(0.778,1)">a</text><text transform="translate(14.69,0) scale(0.586,1)">m</text><text transform="translate(19.26,0) scale(0.778,1)">i</text><text transform="translate(22.25,0) scale(0.778,1)">n</text><text transform="translate(29.3,0) scale(0.683,1)">B</text><text transform="translate(33.21,0) scale(0.778,1)">6</text></g>
<g transform="translate(284.81,135.89)" font-family="Liberation Serif" font-size="7.46" fill="#404040" stroke="#404040" stroke-width="0.12" filter="url(#tb)"><text transform="translate(0.48,0) scale(0.778,1)">a</text><text transform="translate(3.86,0) scale(0.778,1)">d</text><text transform="translate(7.56,0) scale(0.778,1)">e</text><text transform="translate(10.94,0) scale(0.778,1)">n</text><text transform="translate(15.12,0) scale(0.778,1)">i</text><text transform="translate(18.02,0) scale(0.778,1)">n</text><text transform="translate(21.72,0) scale(0.778,1)">e</text></g>
<g transform="translate(289.4,124.82)" font-family="Liberation Serif" font-size="7.24" fill="#404040" stroke="#404040" stroke-width="0.12" filter="url(#tb)"><text transform="translate(0.31,0) scale(0.778,1)">n</text><text transform="translate(4.37,0) scale(0.778,1)">i</text><text transform="translate(7.33,0) scale(0.778,1)">c</text><text transform="translate(10.61,0) scale(0.778,1)">o</text><text transform="translate(14.67,0) scale(0.778,1)">t</text><text transform="translate(18.1,0) scale(0.778,1)">i</text><text transform="translate(20.91,0) scale(0.778,1)">n</text><text transform="translate(24.5,0) scale(0.778,1)">a</text><text transform="translate(27.54,0) scale(0.586,1)">m</text><text transform="translate(31.84,0) scale(0.778,1)">i</text><text transform="translate(34.64,0) scale(0.778,1)">d</text><text transform="translate(38.24,0) scale(0.778,1)">e</text></g>
<g transform="translate(293.71,114.41)" font-family="Liberation Serif" font-size="7.03" fill="#404040" stroke="#404040" stroke-width="0.12" filter="url(#tb)"><text transform="translate(0.45,0) scale(0.778,1)">c</text><text transform="translate(3.79,0) scale(0.778,1)">a</text><text transform="translate(7.57,0) scale(0.778,1)">l</text><text transform="translate(10.45,0) scale(0.778,1)">c</text><text transform="translate(14.24,0) scale(0.778,1)">i</text><text transform="translate(16.97,0) scale(0.778,1)">u</text><text transform="translate(20.06,0) scale(0.586,1)">m</text><text transform="translate(26.73,0) scale(0.631,1)">D</text><text transform="translate(30.75,0) scale(0.778,1)">-</text><text transform="translate(33.63,0) scale(0.778,1)">p</text><text transform="translate(37.12,0) scale(0.778,1)">a</text><text transform="translate(40.3,0) scale(0.778,1)">n</text><text transform="translate(44.24,0) scale(0.778,1)">t</text><text transform="translate(46.96,0) scale(0.778,1)">o</text><text transform="translate(50.9,0) scale(0.778,1)">t</text><text transform="translate(53.63,0) scale(0.778,1)">h</text><text transform="translate(57.11,0) scale(0.778,1)">e</text><text transform="translate(60.29,0) scale(0.778,1)">n</text><text transform="translate(63.78,0) scale(0.778,1)">a</text><text transform="translate(67.57,0) scale(0.778,1)">t</text><text transform="translate(70.45,0) scale(0.778,1)">e</text></g>
<g transform="translate(297.78,104.59)" font-family="Liberation Serif" font-size="6.83" fill="#404040" stroke="#404040" stroke-width="0.11" filter="url(#tb)"><text transform="translate(0.73,0) scale(0.778,1)">f</text><text transform="translate(3.53,0) scale(0.778,1)">o</text><text transform="translate(7.36,0) scale(0.778,1)">l</text><text transform="translate(10.6,0) scale(0.778,1)">i</text><text transform="translate(13.39,0) scale(0.778,1)">c</text><text transform="translate(19.87,0) scale(0.778,1)">a</text><text transform="translate(23.11,0) scale(0.778,1)">c</text><text transform="translate(26.79,0) scale(0.778,1)">i</text><text transform="translate(29.44,0) scale(0.778,1)">d</text></g>
<g transform="translate(301.63,95.31)" font-family="Liberation Serif" font-size="6.64" fill="#404040" stroke="#404040" stroke-width="0.11" filter="url(#tb)"><text transform="translate(0.28,0) scale(0.778,1)">v</text><text transform="translate(4.01,0) scale(0.778,1)">i</text><text transform="translate(7.15,0) scale(0.778,1)">t</text><text transform="translate(9.87,0) scale(0.778,1)">a</text><text transform="translate(12.66,0) scale(0.586,1)">m</text><text transform="translate(16.6,0) scale(0.778,1)">i</text><text transform="translate(19.18,0) scale(0.778,1)">n</text><text transform="translate(25.25,0) scale(0.683,1)">B</text><text transform="translate(28.62,0) scale(0.778,1)">1</text><text transform="translate(31.77,0) scale(0.778,1)">2</text></g>
<g transform="translate(305.27,86.53)" font-family="Liberation Serif" font-size="6.46" fill="#404040" stroke="#404040" stroke-width="0.11" filter="url(#tb)"><text transform="translate(0.06,0) scale(0.631,1)">D</text><text transform="translate(3.76,0) scale(0.778,1)">-</text><text transform="translate(6.4,0) scale(0.778,1)">b</text><text transform="translate(10.03,0) scale(0.778,1)">i</text><text transform="translate(12.53,0) scale(0.778,1)">o</text><text transform="translate(16.15,0) scale(0.778,1)">t</text><text transform="translate(19.22,0) scale(0.778,1)">i</text><text transform="translate(21.72,0) scale(0.778,1)">n</text></g>
<g transform="translate(308.72,78.21)" font-family="Liberation Serif" font-size="6.29" fill="#404040" stroke="#404040" stroke-width="0.1" filter="url(#tb)"><text transform="translate(0.27,0) scale(0.778,1)">v</text><text transform="translate(3.8,0) scale(0.778,1)">i</text><text transform="translate(6.78,0) scale(0.778,1)">t</text><text transform="translate(9.36,0) scale(0.778,1)">a</text><text transform="translate(11.99,0) scale(0.586,1)">m</text><text transform="translate(15.73,0) scale(0.778,1)">i</text><text transform="translate(18.17,0) scale(0.778,1)">n</text><text transform="translate(23.93,0) scale(0.683,1)">B</text><text transform="translate(27.12,0) scale(0.778,1)">2</text></g>
<g transform="translate(50.58,124.21)" font-family="Liberation Serif" font-size="8.5" fill="#2e2e2e" stroke="#2e2e2e" stroke-width="0.3" filter="url(#tb)"><text transform="translate(-17.02,0) scale(0.876,1)">0</text><text transform="translate(-12.9,0) scale(0.876,1)">.</text><text transform="translate(-8.36,0) scale(0.876,1)">1</text><text transform="translate(-4.03,0) scale(0.876,1)">0</text></g>
<g transform="translate(50.58,138.86)" font-family="Liberation Serif" font-size="8.5" fill="#2e2e2e" stroke="#2e2e2e" stroke-width="0.3" filter="url(#tb)"><text transform="translate(-17.02,0) scale(0.876,1)">0</text><text transform="translate(-12.9,0) scale(0.876,1)">.</text><text transform="translate(-8.36,0) scale(0.876,1)">0</text><text transform="translate(-4.03,0) scale(0.876,1)">8</text></g>
<g transform="translate(50.58,153.5)" font-family="Liberation Serif" font-size="8.5" fill="#2e2e2e" stroke="#2e2e2e" stroke-width="0.3" filter="url(#tb)"><text transform="translate(-17.02,0) scale(0.876,1)">0</text><text transform="translate(-12.9,0) scale(0.876,1)">.</text><text transform="translate(-8.36,0) scale(0.876,1)">0</text><text transform="translate(-4.03,0) scale(0.876,1)">6</text></g>
<g transform="translate(50.58,168.15)" font-family="Liberation Serif" font-size="8.5" fill="#2e2e2e" stroke="#2e2e2e" stroke-width="0.3" filter="url(#tb)"><text transform="translate(-17.02,0) scale(0.876,1)">0</text><text transform="translate(-12.9,0) scale(0.876,1)">.</text><text transform="translate(-8.36,0) scale(0.876,1)">0</text><text transform="translate(-4.03,0) scale(0.876,1)">4</text></g>
<g transform="translate(50.58,182.79)" font-family="Liberation Serif" font-size="8.5" fill="#2e2e2e" stroke="#2e2e2e" stroke-width="0.3" filter="url(#tb)"><text transform="translate(-17.02,0) scale(0.876,1)">0</text><text transform="translate(-12.9,0) scale(0.876,1)">.</text><text transform="translate(-8.36,0) scale(0.876,1)">0</text><text transform="translate(-4.03,0) scale(0.876,1)">2</text></g>
<g transform="translate(50.58,197.44)" font-family="Liberation Serif" font-size="8.5" fill="#2e2e2e" stroke="#2e2e2e" stroke-width="0.3" filter="url(#tb)"><text transform="translate(-17.02,0) scale(0.876,1)">0</text><text transform="translate(-12.9,0) scale(0.876,1)">.</text><text transform="translate(-8.36,0) scale(0.876,1)">0</text><text transform="translate(-4.03,0) scale(0.876,1)">0</text></g>
<g transform="translate(50.58,212.09)" font-family="Liberation Serif" font-size="8.5" fill="#2e2e2e" stroke="#2e2e2e" stroke-width="0.3" filter="url(#tb)"><text transform="translate(-21.35,0) scale(0.876,1)">–</text><text transform="translate(-17.02,0) scale(0.876,1)">0</text><text transform="translate(-12.9,0) scale(0.876,1)">.</text><text transform="translate(-8.36,0) scale(0.876,1)">0</text><text transform="translate(-4.03,0) scale(0.876,1)">2</text></g>
<g transform="translate(95.14,222.79)" font-family="Liberation Serif" font-size="8.2" fill="#2e2e2e" stroke="#2e2e2e" stroke-width="0.3" filter="url(#tb)"><text transform="translate(-1.84,0) scale(0.900,1)">5</text></g>
<g transform="translate(133.2,222.79)" font-family="Liberation Serif" font-size="8.2" fill="#2e2e2e" stroke="#2e2e2e" stroke-width="0.3" filter="url(#tb)"><text transform="translate(-3.89,0) scale(0.900,1)">1</text><text transform="translate(0.2,0) scale(0.900,1)">0</text></g>
<g transform="translate(171.26,222.79)" font-family="Liberation Serif" font-size="8.2" fill="#2e2e2e" stroke="#2e2e2e" stroke-width="0.3" filter="url(#tb)"><text transform="translate(-3.89,0) scale(0.900,1)">1</text><text transform="translate(0.2,0) scale(0.900,1)">5</text></g>
<g transform="translate(209.32,222.79)" font-family="Liberation Serif" font-size="8.2" fill="#2e2e2e" stroke="#2e2e2e" stroke-width="0.3" filter="url(#tb)"><text transform="translate(-3.89,0) scale(0.900,1)">2</text><text transform="translate(0.2,0) scale(0.900,1)">0</text></g>
<g transform="translate(247.38,222.79)" font-family="Liberation Serif" font-size="8.2" fill="#2e2e2e" stroke="#2e2e2e" stroke-width="0.3" filter="url(#tb)"><text transform="translate(-3.89,0) scale(0.900,1)">2</text><text transform="translate(0.2,0) scale(0.900,1)">5</text></g>
<text x="66.6" y="77.8" font-family="Liberation Serif" font-size="11.4" textLength="15.3" lengthAdjust="spacingAndGlyphs" fill="#222">210</text>
<text x="82.3" y="77.8" font-family="Liberation Serif" font-size="11.06" textLength="10.6" lengthAdjust="spacingAndGlyphs" fill="#222">nm</text>
<text transform="translate(25,195.5) rotate(-90)" x="0" y="0" font-family="Liberation Serif" font-size="11.8" textLength="73.2" lengthAdjust="spacingAndGlyphs" fill="#4a4a4a" filter="url(#tb)">Absorbance (AU)</text>
<g transform="translate(210.6,233.8)" font-family="Liberation Serif" font-size="11.3" fill="#222" stroke="#222" stroke-width="0.12" filter="url(#tb)"><text transform="translate(0.1,0) scale(0.705,1)">T</text><text transform="translate(6.22,0) scale(0.879,1)">i</text><text transform="translate(10.24,0) scale(0.554,1)">m</text><text transform="translate(15.54,0) scale(0.879,1)">e</text><text transform="translate(21.94,0) scale(0.879,1)">(</text><text transform="translate(25.45,0) scale(0.554,1)">m</text><text transform="translate(31.57,0) scale(0.879,1)">i</text><text transform="translate(35.59,0) scale(0.861,1)">n</text><text transform="translate(42.08,0) scale(0.879,1)">)</text></g>
<polygon points="405.62,206.19 405.62,111.85 521.65,6.84 521.65,71.69" fill="#e5f6f6"/>
<polygon points="521.65,71.69 521.65,6.84 650.42,6.84 650.42,71.69" fill="#ffffdc"/>
<polygon points="405.62,206.19 592.94,206.19 650.42,71.69 521.65,71.69" fill="#e6e6e6"/>
<line x1="405.62" y1="206.19" x2="521.65" y2="71.69" stroke="#cadede" stroke-width="0.6"/>
<line x1="405.62" y1="189.04" x2="521.65" y2="59.9" stroke="#cadede" stroke-width="0.6"/>
<line x1="405.62" y1="171.89" x2="521.65" y2="48.11" stroke="#cadede" stroke-width="0.6"/>
<line x1="405.62" y1="154.74" x2="521.65" y2="36.32" stroke="#cadede" stroke-width="0.6"/>
<line x1="405.62" y1="137.58" x2="521.65" y2="24.53" stroke="#cadede" stroke-width="0.6"/>
<line x1="405.62" y1="120.43" x2="521.65" y2="12.74" stroke="#cadede" stroke-width="0.6"/>
<line x1="413.06" y1="197.56" x2="413.06" y2="105.12" stroke="#cadede" stroke-width="0.6"/>
<line x1="427.23" y1="181.14" x2="427.23" y2="92.29" stroke="#cadede" stroke-width="0.6"/>
<line x1="440.33" y1="165.95" x2="440.33" y2="80.43" stroke="#cadede" stroke-width="0.6"/>
<line x1="452.49" y1="151.85" x2="452.49" y2="69.43" stroke="#cadede" stroke-width="0.6"/>
<line x1="463.8" y1="138.74" x2="463.8" y2="59.19" stroke="#cadede" stroke-width="0.6"/>
<line x1="474.35" y1="126.51" x2="474.35" y2="49.64" stroke="#cadede" stroke-width="0.6"/>
<line x1="484.21" y1="115.08" x2="484.21" y2="40.72" stroke="#cadede" stroke-width="0.6"/>
<line x1="493.45" y1="104.38" x2="493.45" y2="32.36" stroke="#cadede" stroke-width="0.6"/>
<line x1="502.13" y1="94.32" x2="502.13" y2="24.51" stroke="#cadede" stroke-width="0.6"/>
<line x1="510.28" y1="84.87" x2="510.28" y2="17.13" stroke="#cadede" stroke-width="0.6"/>
<line x1="517.97" y1="75.96" x2="517.97" y2="10.17" stroke="#cadede" stroke-width="0.6"/>
<line x1="521.65" y1="71.69" x2="650.42" y2="71.69" stroke="#e6e6c4" stroke-width="0.6"/>
<line x1="521.65" y1="59.9" x2="650.42" y2="59.9" stroke="#e6e6c4" stroke-width="0.6"/>
<line x1="521.65" y1="48.11" x2="650.42" y2="48.11" stroke="#e6e6c4" stroke-width="0.6"/>
<line x1="521.65" y1="36.32" x2="650.42" y2="36.32" stroke="#e6e6c4" stroke-width="0.6"/>
<line x1="521.65" y1="24.53" x2="650.42" y2="24.53" stroke="#e6e6c4" stroke-width="0.6"/>
<line x1="521.65" y1="12.74" x2="650.42" y2="12.74" stroke="#e6e6c4" stroke-width="0.6"/>
<line x1="547.4" y1="71.69" x2="547.4" y2="6.84" stroke="#e6e6c4" stroke-width="0.6"/>
<line x1="573.16" y1="71.69" x2="573.16" y2="6.84" stroke="#e6e6c4" stroke-width="0.6"/>
<line x1="598.91" y1="71.69" x2="598.91" y2="6.84" stroke="#e6e6c4" stroke-width="0.6"/>
<line x1="624.67" y1="71.69" x2="624.67" y2="6.84" stroke="#e6e6c4" stroke-width="0.6"/>
<line x1="443.08" y1="206.19" x2="547.4" y2="71.69" stroke="#cfcfcf" stroke-width="0.6"/>
<line x1="480.55" y1="206.19" x2="573.16" y2="71.69" stroke="#cfcfcf" stroke-width="0.6"/>
<line x1="518.01" y1="206.19" x2="598.91" y2="71.69" stroke="#cfcfcf" stroke-width="0.6"/>
<line x1="555.48" y1="206.19" x2="624.67" y2="71.69" stroke="#cfcfcf" stroke-width="0.6"/>
<line x1="405.62" y1="111.85" x2="521.65" y2="6.84" stroke="#b8c8c8" stroke-width="0.7"/>
<line x1="521.65" y1="6.84" x2="650.42" y2="6.84" stroke="#d6d6c0" stroke-width="0.9"/>
<line x1="650.42" y1="6.84" x2="650.42" y2="71.69" stroke="#d6d6c0" stroke-width="0.9"/>
<line x1="521.65" y1="6.84" x2="521.65" y2="71.69" stroke="#b8c8c8" stroke-width="0.7"/>
<polygon points="517.97,63.99 638.32,63.97 638.41,63.93 638.5,63.81 638.59,63.52 638.67,62.9 638.76,61.65 638.85,59.39 638.93,55.68 639.02,50.21 639.11,42.98 639.19,34.54 639.28,26.04 639.37,19.06 639.46,15.08 639.54,15.06 639.63,18.99 639.72,25.95 639.8,34.43 639.89,42.88 639.98,50.13 640.07,55.63 640.15,59.35 640.24,61.63 640.33,62.89 640.41,63.52 640.5,63.81 640.59,63.93 640.68,63.97 648.6,63.99 648.6,76.31 517.97,76.31" fill="#f9f9f9"/>
<polyline points="517.97,63.99 517.97,76.31 648.6,76.31 648.6,63.99" fill="none" stroke="#4c4cff" stroke-width="1.0" opacity="0.85"/>
<polyline points="517.97,63.99 638.32,63.97 638.41,63.93 638.5,63.81 638.59,63.52 638.67,62.9 638.76,61.65 638.85,59.39 638.93,55.68 639.02,50.21 639.11,42.98 639.19,34.54 639.28,26.04 639.37,19.06 639.46,15.08 639.54,15.06 639.63,18.99 639.72,25.95 639.8,34.43 639.89,42.88 639.98,50.13 640.07,55.63 640.15,59.35 640.24,61.63 640.33,62.89 640.41,63.52 640.5,63.81 640.59,63.93 640.68,63.97 648.6,63.99" fill="none" stroke="#4c4cff" stroke-width="1.3" stroke-linejoin="round"/>
<polygon points="510.28,72.55 620.58,72.53 620.67,72.51 620.76,72.47 620.85,72.38 620.94,72.22 621.03,71.94 621.12,71.51 621.21,70.9 621.3,70.09 621.39,69.11 621.48,68.04 621.57,67.03 621.66,66.21 621.75,65.73 621.84,65.69 621.93,66.08 622.01,66.84 622.1,67.83 622.19,68.89 622.28,69.9 622.37,70.75 622.46,71.4 622.55,71.87 622.64,72.17 622.73,72.35 622.82,72.45 622.91,72.51 623,72.53 644.79,72.55 644.79,85.24 510.28,85.24" fill="#f9f9f9"/>
<polyline points="510.28,72.55 510.28,85.24 644.79,85.24 644.79,72.55" fill="none" stroke="#2828f8" stroke-width="1.0" opacity="0.85"/>
<polyline points="510.28,72.55 620.58,72.53 620.67,72.51 620.76,72.47 620.85,72.38 620.94,72.22 621.03,71.94 621.12,71.51 621.21,70.9 621.3,70.09 621.39,69.11 621.48,68.04 621.57,67.03 621.66,66.21 621.75,65.73 621.84,65.69 621.93,66.08 622.01,66.84 622.1,67.83 622.19,68.89 622.28,69.9 622.37,70.75 622.46,71.4 622.55,71.87 622.64,72.17 622.73,72.35 622.82,72.45 622.91,72.51 623,72.53 644.79,72.55" fill="none" stroke="#2828f8" stroke-width="1.3" stroke-linejoin="round"/>
<polygon points="502.13,81.63 607.94,81.62 608.03,81.59 608.13,81.53 608.22,81.38 608.31,81.04 608.4,80.36 608.5,79.15 608.59,77.24 608.68,74.56 608.77,71.27 608.87,67.83 608.96,64.9 609.05,63.19 609.14,63.15 609.24,64.78 609.33,67.66 609.42,71.1 609.51,74.41 609.61,77.12 609.7,79.07 609.79,80.31 609.88,81.01 609.98,81.37 610.07,81.53 610.16,81.59 610.25,81.62 640.75,81.63 640.75,94.7 502.13,94.7" fill="#f9f9f9"/>
<polyline points="502.13,81.63 502.13,94.7 640.75,94.7 640.75,81.63" fill="none" stroke="#2a7af8" stroke-width="1.0" opacity="0.85"/>
<polyline points="502.13,81.63 607.94,81.62 608.03,81.59 608.13,81.53 608.22,81.38 608.31,81.04 608.4,80.36 608.5,79.15 608.59,77.24 608.68,74.56 608.77,71.27 608.87,67.83 608.96,64.9 609.05,63.19 609.14,63.15 609.24,64.78 609.33,67.66 609.42,71.1 609.51,74.41 609.61,77.12 609.7,79.07 609.79,80.31 609.88,81.01 609.98,81.37 610.07,81.53 610.16,81.59 610.25,81.62 640.75,81.63" fill="none" stroke="#2a7af8" stroke-width="1.3" stroke-linejoin="round"/>
<polygon points="493.45,91.28 567.53,91.23 567.62,91.2 567.72,91.17 567.81,91.13 567.91,91.08 568,91.01 568.1,90.93 568.19,90.82 568.29,90.7 568.39,90.54 568.48,90.36 568.58,90.16 568.67,89.92 568.77,89.66 568.86,89.37 568.96,89.07 569.05,88.75 569.15,88.43 569.24,88.12 569.34,87.82 569.43,87.54 569.53,87.3 569.62,87.1 569.72,86.96 569.82,86.87 569.91,86.85 570.01,86.89 570.1,86.99 570.2,87.14 570.29,87.35 570.39,87.6 570.48,87.88 570.58,88.19 570.67,88.5 570.77,88.82 570.86,89.14 570.96,89.44 571.05,89.72 571.15,89.97 571.25,90.2 571.34,90.41 571.44,90.58 571.53,90.73 571.63,90.85 571.72,90.95 571.82,91.03 571.91,91.09 572.01,91.14 572.1,91.18 572.2,91.21 572.29,91.23 636.45,91.28 636.45,104.77 493.45,104.77" fill="#f9f9f9"/>
<polyline points="493.45,91.28 493.45,104.77 636.45,104.77 636.45,91.28" fill="none" stroke="#20e0f0" stroke-width="1.0" opacity="0.85"/>
<polyline points="493.45,91.28 567.53,91.23 567.62,91.2 567.72,91.17 567.81,91.13 567.91,91.08 568,91.01 568.1,90.93 568.19,90.82 568.29,90.7 568.39,90.54 568.48,90.36 568.58,90.16 568.67,89.92 568.77,89.66 568.86,89.37 568.96,89.07 569.05,88.75 569.15,88.43 569.24,88.12 569.34,87.82 569.43,87.54 569.53,87.3 569.62,87.1 569.72,86.96 569.82,86.87 569.91,86.85 570.01,86.89 570.1,86.99 570.2,87.14 570.29,87.35 570.39,87.6 570.48,87.88 570.58,88.19 570.67,88.5 570.77,88.82 570.86,89.14 570.96,89.44 571.05,89.72 571.15,89.97 571.25,90.2 571.34,90.41 571.44,90.58 571.53,90.73 571.63,90.85 571.72,90.95 571.82,91.03 571.91,91.09 572.01,91.14 572.1,91.18 572.2,91.21 572.29,91.23 636.45,91.28" fill="none" stroke="#20e0f0" stroke-width="1.3" stroke-linejoin="round"/>
<polygon points="484.21,101.56 547.12,101.53 547.22,101.5 547.32,101.46 547.41,101.39 547.51,101.27 547.61,101.1 547.71,100.84 547.81,100.46 547.91,99.92 548,99.19 548.1,98.23 548.2,96.99 548.3,95.48 548.4,93.67 548.5,91.6 548.6,89.31 548.69,86.91 548.79,84.5 548.89,82.22 548.99,80.22 549.09,78.63 549.19,77.59 549.28,77.16 549.38,77.38 549.48,78.24 549.58,79.66 549.68,81.55 549.78,83.76 549.88,86.14 549.97,88.56 550.07,90.89 550.17,93.04 550.27,94.93 550.37,96.55 550.47,97.87 550.56,98.91 550.66,99.71 550.76,99.93 550.86,100 550.96,100.05 551.06,100.11 551.15,100.17 551.25,100.22 551.35,100.27 551.45,100.32 551.55,100.37 551.65,100.42 551.75,100.46 551.84,100.5 551.94,100.55 552.04,100.58 552.14,100.62 552.24,100.66 552.34,100.69 552.43,100.73 552.53,100.76 552.63,100.79 552.73,100.82 552.83,100.85 552.93,100.88 553.03,100.9 553.12,100.93 553.22,100.95 553.32,100.98 553.42,101 553.52,101.02 553.62,101.04 553.71,101.06 631.88,101.56 631.88,115.49 484.21,115.49" fill="#f9f9f9"/>
<polyline points="484.21,101.56 484.21,115.49 631.88,115.49 631.88,101.56" fill="none" stroke="#22e030" stroke-width="1.0" opacity="0.85"/>
<polyline points="484.21,101.56 547.12,101.53 547.22,101.5 547.32,101.46 547.41,101.39 547.51,101.27 547.61,101.1 547.71,100.84 547.81,100.46 547.91,99.92 548,99.19 548.1,98.23 548.2,96.99 548.3,95.48 548.4,93.67 548.5,91.6 548.6,89.31 548.69,86.91 548.79,84.5 548.89,82.22 548.99,80.22 549.09,78.63 549.19,77.59 549.28,77.16 549.38,77.38 549.48,78.24 549.58,79.66 549.68,81.55 549.78,83.76 549.88,86.14 549.97,88.56 550.07,90.89 550.17,93.04 550.27,94.93 550.37,96.55 550.47,97.87 550.56,98.91 550.66,99.71 550.76,99.93 550.86,100 550.96,100.05 551.06,100.11 551.15,100.17 551.25,100.22 551.35,100.27 551.45,100.32 551.55,100.37 551.65,100.42 551.75,100.46 551.84,100.5 551.94,100.55 552.04,100.58 552.14,100.62 552.24,100.66 552.34,100.69 552.43,100.73 552.53,100.76 552.63,100.79 552.73,100.82 552.83,100.85 552.93,100.88 553.03,100.9 553.12,100.93 553.22,100.95 553.32,100.98 553.42,101 553.52,101.02 553.62,101.04 553.71,101.06 631.88,101.56" fill="none" stroke="#22e030" stroke-width="1.3" stroke-linejoin="round"/>
<polygon points="474.35,112.54 526.15,112.5 526.25,112.48 526.35,112.45 526.45,112.4 526.56,112.34 526.66,112.26 526.76,112.15 526.86,112.01 526.96,111.83 527.06,111.61 527.17,111.36 527.27,111.06 527.37,110.72 527.47,110.36 527.57,109.98 527.68,109.59 527.78,109.22 527.88,108.88 527.98,108.58 528.08,108.36 528.18,108.21 528.29,108.15 528.39,108.18 528.49,108.31 528.59,108.51 528.69,108.79 528.79,109.12 528.9,109.49 529,109.87 529.1,110.25 529.2,110.62 529.3,110.97 529.41,111.28 529.51,111.55 529.61,111.77 529.71,111.96 529.81,112.11 529.91,112.23 530.02,112.32 530.12,112.39 530.22,112.44 530.32,112.47 530.42,112.49 626.99,112.54 626.99,126.93 474.35,126.93" fill="#f9f9f9"/>
<polyline points="474.35,112.54 474.35,126.93 626.99,126.93 626.99,112.54" fill="none" stroke="#44dd11" stroke-width="1.0" opacity="0.85"/>
<polyline points="474.35,112.54 526.15,112.5 526.25,112.48 526.35,112.45 526.45,112.4 526.56,112.34 526.66,112.26 526.76,112.15 526.86,112.01 526.96,111.83 527.06,111.61 527.17,111.36 527.27,111.06 527.37,110.72 527.47,110.36 527.57,109.98 527.68,109.59 527.78,109.22 527.88,108.88 527.98,108.58 528.08,108.36 528.18,108.21 528.29,108.15 528.39,108.18 528.49,108.31 528.59,108.51 528.69,108.79 528.79,109.12 528.9,109.49 529,109.87 529.1,110.25 529.2,110.62 529.3,110.97 529.41,111.28 529.51,111.55 529.61,111.77 529.71,111.96 529.81,112.11 529.91,112.23 530.02,112.32 530.12,112.39 530.22,112.44 530.32,112.47 530.42,112.49 626.99,112.54" fill="none" stroke="#44dd11" stroke-width="1.3" stroke-linejoin="round"/>
<polygon points="463.8,124.28 508.67,124.25 508.77,124.23 508.88,124.2 508.98,124.14 509.09,124.05 509.19,123.9 509.3,123.69 509.4,123.37 509.51,122.94 509.61,122.35 509.72,121.59 509.82,120.65 509.93,119.52 510.03,118.23 510.14,116.83 510.25,115.39 510.35,113.98 510.46,112.71 510.56,111.69 510.67,110.98 510.77,110.66 510.88,110.76 510.98,111.27 511.09,112.13 511.19,113.28 511.3,114.63 511.4,116.07 511.51,117.5 511.61,118.85 511.72,120.07 511.83,121.11 511.93,121.97 512.04,122.64 512.14,123.16 512.25,123.53 512.35,123.65 512.46,123.68 512.56,123.71 512.67,123.74 512.77,123.77 512.88,123.8 512.98,123.82 513.09,123.84 513.19,123.87 513.3,123.89 513.4,123.91 621.77,124.28 621.77,139.18 463.8,139.18" fill="#f9f9f9"/>
<polyline points="463.8,124.28 463.8,139.18 621.77,139.18 621.77,124.28" fill="none" stroke="#a0e620" stroke-width="1.0" opacity="0.85"/>
<polyline points="463.8,124.28 508.67,124.25 508.77,124.23 508.88,124.2 508.98,124.14 509.09,124.05 509.19,123.9 509.3,123.69 509.4,123.37 509.51,122.94 509.61,122.35 509.72,121.59 509.82,120.65 509.93,119.52 510.03,118.23 510.14,116.83 510.25,115.39 510.35,113.98 510.46,112.71 510.56,111.69 510.67,110.98 510.77,110.66 510.88,110.76 510.98,111.27 511.09,112.13 511.19,113.28 511.3,114.63 511.4,116.07 511.51,117.5 511.61,118.85 511.72,120.07 511.83,121.11 511.93,121.97 512.04,122.64 512.14,123.16 512.25,123.53 512.35,123.65 512.46,123.68 512.56,123.71 512.67,123.74 512.77,123.77 512.88,123.8 512.98,123.82 513.09,123.84 513.19,123.87 513.3,123.89 513.4,123.91 621.77,124.28" fill="none" stroke="#a0e620" stroke-width="1.3" stroke-linejoin="round"/>
<polygon points="452.49,136.87 486.86,136.83 486.97,136.8 487.08,136.75 487.19,136.65 487.3,136.5 487.41,136.27 487.52,135.92 487.63,135.4 487.74,134.68 487.85,133.71 487.96,132.47 488.06,130.93 488.17,129.11 488.28,127.07 488.39,124.89 488.5,122.7 488.61,120.66 488.72,118.92 488.83,117.65 488.94,116.96 489.05,116.91 489.16,117.51 489.26,118.71 489.37,120.38 489.48,122.39 489.59,124.57 489.7,126.76 489.81,128.83 489.92,130.68 490.03,132.26 490.14,133.55 490.25,134.56 490.36,135.31 490.47,135.85 490.57,135.96 490.68,136 490.79,136.05 490.9,136.09 491.01,136.13 491.12,136.17 491.23,136.21 491.34,136.25 491.45,136.28 491.56,136.31 491.67,136.34 491.77,136.37 491.88,136.39 491.99,136.42 492.1,136.44 492.21,136.46 492.32,136.49 492.43,136.51 616.16,136.87 616.16,152.3 452.49,152.3" fill="#f9f9f9"/>
<polyline points="452.49,136.87 452.49,152.3 616.16,152.3 616.16,136.87" fill="none" stroke="#f0e800" stroke-width="1.0" opacity="0.85"/>
<polyline points="452.49,136.87 486.86,136.83 486.97,136.8 487.08,136.75 487.19,136.65 487.3,136.5 487.41,136.27 487.52,135.92 487.63,135.4 487.74,134.68 487.85,133.71 487.96,132.47 488.06,130.93 488.17,129.11 488.28,127.07 488.39,124.89 488.5,122.7 488.61,120.66 488.72,118.92 488.83,117.65 488.94,116.96 489.05,116.91 489.16,117.51 489.26,118.71 489.37,120.38 489.48,122.39 489.59,124.57 489.7,126.76 489.81,128.83 489.92,130.68 490.03,132.26 490.14,133.55 490.25,134.56 490.36,135.31 490.47,135.85 490.57,135.96 490.68,136 490.79,136.05 490.9,136.09 491.01,136.13 491.12,136.17 491.23,136.21 491.34,136.25 491.45,136.28 491.56,136.31 491.67,136.34 491.77,136.37 491.88,136.39 491.99,136.42 492.1,136.44 492.21,136.46 492.32,136.49 492.43,136.51 616.16,136.87" fill="none" stroke="#f0e800" stroke-width="1.3" stroke-linejoin="round"/>
<polygon points="440.33,150.4 461.62,150.37 461.73,150.33 461.84,150.24 461.96,150.08 462.07,149.77 462.18,149.23 462.3,148.34 462.41,146.94 462.52,144.87 462.64,142.01 462.75,138.3 462.86,133.84 462.98,128.85 463.09,123.77 463.2,119.13 463.32,115.52 463.43,113.43 463.54,113.18 463.65,114.8 463.77,118.05 463.88,122.47 463.99,127.49 464.11,132.55 464.22,137.19 464.33,141.11 464.45,144.19 464.56,146.46 464.67,148.02 464.79,148.44 464.9,148.55 465.01,148.65 465.13,148.74 465.24,148.83 465.35,148.92 465.47,149 465.58,149.08 465.69,149.15 465.81,149.22 465.92,149.28 466.03,149.35 466.15,149.4 466.26,149.46 466.37,149.51 466.48,149.56 466.6,149.61 466.71,149.65 466.82,149.69 466.94,149.73 467.05,149.77 467.16,149.8 467.28,149.83 467.39,149.87 467.5,149.89 467.62,149.92 467.73,149.95 467.84,149.97 467.96,150 468.07,150.02 468.18,150.04 610.14,150.4 610.14,166.41 440.33,166.41" fill="#f9f9f9"/>
<polyline points="440.33,150.4 440.33,166.41 610.14,166.41 610.14,150.4" fill="none" stroke="#ff8c1a" stroke-width="1.0" opacity="0.85"/>
<polyline points="440.33,150.4 461.62,150.37 461.73,150.33 461.84,150.24 461.96,150.08 462.07,149.77 462.18,149.23 462.3,148.34 462.41,146.94 462.52,144.87 462.64,142.01 462.75,138.3 462.86,133.84 462.98,128.85 463.09,123.77 463.2,119.13 463.32,115.52 463.43,113.43 463.54,113.18 463.65,114.8 463.77,118.05 463.88,122.47 463.99,127.49 464.11,132.55 464.22,137.19 464.33,141.11 464.45,144.19 464.56,146.46 464.67,148.02 464.79,148.44 464.9,148.55 465.01,148.65 465.13,148.74 465.24,148.83 465.35,148.92 465.47,149 465.58,149.08 465.69,149.15 465.81,149.22 465.92,149.28 466.03,149.35 466.15,149.4 466.26,149.46 466.37,149.51 466.48,149.56 466.6,149.61 466.71,149.65 466.82,149.69 466.94,149.73 467.05,149.77 467.16,149.8 467.28,149.83 467.39,149.87 467.5,149.89 467.62,149.92 467.73,149.95 467.84,149.97 467.96,150 468.07,150.02 468.18,150.04 610.14,150.4" fill="none" stroke="#ff8c1a" stroke-width="1.3" stroke-linejoin="round"/>
<polygon points="427.23,164.99 446.99,164.97 447.11,164.94 447.22,164.88 447.34,164.75 447.46,164.47 447.58,163.97 447.69,163.1 447.81,161.71 447.93,159.68 448.05,156.97 448.16,153.66 448.28,150.04 448.4,146.56 448.52,143.78 448.63,142.19 448.75,142.1 448.87,143.53 448.99,146.19 449.1,149.61 449.22,153.24 449.34,156.61 449.46,159.4 449.58,161.51 449.69,162.97 449.81,163.4 449.93,163.49 450.05,163.58 450.16,163.66 450.28,163.73 450.4,163.8 450.52,163.87 450.63,163.93 450.75,163.99 450.87,164.05 450.99,164.1 451.1,164.15 451.22,164.2 451.34,164.25 451.46,164.29 451.57,164.33 451.69,164.37 451.81,164.4 451.93,164.44 452.05,164.47 452.16,164.5 452.28,164.52 452.4,164.55 452.52,164.58 452.63,164.6 452.75,164.62 452.87,164.64 590.36,164.92 590.47,164.9 590.59,164.87 590.71,164.84 590.83,164.8 590.94,164.76 591.06,164.72 591.18,164.67 591.3,164.62 591.42,164.58 591.53,164.53 591.65,164.5 591.77,164.47 592.24,164.47 592.36,164.5 592.47,164.54 592.59,164.58 592.71,164.62 592.83,164.67 592.94,164.72 593.06,164.76 593.18,164.81 593.3,164.84 593.41,164.87 593.53,164.9 593.65,164.92 603.65,164.99 603.65,181.62 427.23,181.62" fill="#f9f9f9"/>
<polyline points="427.23,164.99 427.23,181.62 603.65,181.62 603.65,164.99" fill="none" stroke="#ff1010" stroke-width="1.0" opacity="0.85"/>
<polyline points="427.23,164.99 446.99,164.97 447.11,164.94 447.22,164.88 447.34,164.75 447.46,164.47 447.58,163.97 447.69,163.1 447.81,161.71 447.93,159.68 448.05,156.97 448.16,153.66 448.28,150.04 448.4,146.56 448.52,143.78 448.63,142.19 448.75,142.1 448.87,143.53 448.99,146.19 449.1,149.61 449.22,153.24 449.34,156.61 449.46,159.4 449.58,161.51 449.69,162.97 449.81,163.4 449.93,163.49 450.05,163.58 450.16,163.66 450.28,163.73 450.4,163.8 450.52,163.87 450.63,163.93 450.75,163.99 450.87,164.05 450.99,164.1 451.1,164.15 451.22,164.2 451.34,164.25 451.46,164.29 451.57,164.33 451.69,164.37 451.81,164.4 451.93,164.44 452.05,164.47 452.16,164.5 452.28,164.52 452.4,164.55 452.52,164.58 452.63,164.6 452.75,164.62 452.87,164.64 590.36,164.92 590.47,164.9 590.59,164.87 590.71,164.84 590.83,164.8 590.94,164.76 591.06,164.72 591.18,164.67 591.3,164.62 591.42,164.58 591.53,164.53 591.65,164.5 591.77,164.47 592.24,164.47 592.36,164.5 592.47,164.54 592.59,164.58 592.71,164.62 592.83,164.67 592.94,164.72 593.06,164.76 593.18,164.81 593.3,164.84 593.41,164.87 593.53,164.9 593.65,164.92 603.65,164.99" fill="none" stroke="#ff1010" stroke-width="1.3" stroke-linejoin="round"/>
<polygon points="413.06,180.75 435.46,180.74 435.58,180.7 435.7,180.6 435.82,180.35 435.95,179.79 436.07,178.7 436.19,176.76 436.31,173.67 436.43,169.32 436.56,163.95 436.68,158.25 436.8,153.32 436.92,150.3 437.05,149.96 437.17,152.4 437.29,156.99 437.41,162.61 437.54,168.14 437.66,172.76 437.78,176.14 437.9,178.31 438.03,179.51 438.15,180.01 438.27,179.95 438.39,179.31 438.52,177.9 438.64,175.44 438.76,171.68 438.88,166.63 439,160.74 439.13,154.91 439.25,150.37 439.37,148.23 439.49,149.05 439.62,152.6 439.74,158 439.86,164 439.98,169.52 440.11,173.9 440.23,176.94 440.35,178.82 440.47,179.86 440.6,180.38 440.72,180.61 440.84,180.7 440.96,180.74 451.85,180.73 451.98,180.68 452.1,180.55 452.22,180.28 452.34,179.71 452.47,178.69 452.59,177.03 452.71,174.63 452.83,171.58 452.96,168.25 453.08,165.23 453.2,163.2 453.32,162.68 453.45,163.81 453.57,166.29 453.69,169.51 453.81,172.79 453.94,175.62 454.06,177.74 454.18,179.14 454.3,179.97 454.42,180.41 454.55,180.61 454.67,180.7 454.79,180.74 461.89,180.73 462.01,180.7 462.13,180.63 462.26,180.48 462.38,180.19 462.5,179.68 462.62,178.86 462.75,177.65 462.87,176.04 462.99,174.11 463.11,172.04 463.24,170.15 463.36,168.76 463.48,168.16 463.6,168.48 463.73,169.63 463.85,171.4 463.97,173.45 464.09,175.46 464.21,177.19 464.34,178.52 464.46,179.46 464.58,180.05 464.7,180.4 464.83,180.59 464.95,180.68 465.07,180.73 472.29,180.73 472.41,180.69 472.54,180.63 472.66,180.52 472.78,180.34 472.9,180.07 473.03,179.67 473.15,179.14 473.27,178.49 473.39,177.76 473.52,177.03 473.64,176.39 473.76,175.94 473.88,175.75 474.01,175.86 474.13,176.24 474.25,176.84 474.37,177.55 474.49,178.29 474.62,178.96 474.74,179.53 474.86,179.97 474.98,180.28 475.11,180.48 475.23,180.61 475.35,180.68 475.47,180.72 485.02,180.74 485.14,180.71 485.26,180.62 485.39,180.4 485.51,179.9 485.63,178.87 485.75,176.98 485.88,173.88 486,169.34 486.12,163.49 486.24,156.99 486.37,150.95 486.49,146.72 486.61,145.36 486.73,147.24 486.85,151.85 486.98,158.06 487.1,164.52 487.22,170.18 487.34,174.49 487.47,177.37 487.59,179.09 487.71,180.01 487.83,180.45 487.96,180.64 488.08,180.72 488.2,180.74 500.19,180.73 500.32,180.71 500.44,180.65 500.56,180.55 500.68,180.38 500.81,180.09 500.93,179.65 501.05,179.03 501.17,178.22 501.3,177.24 501.42,176.17 501.54,175.12 501.66,174.23 501.78,173.64 501.91,173.45 502.03,173.69 502.15,174.32 502.27,175.24 502.4,176.3 502.52,177.36 502.64,178.32 502.76,179.11 502.89,179.71 503.01,180.13 503.13,180.4 503.25,180.57 503.38,180.66 503.5,180.71 503.62,180.73 555.39,180.74 555.51,180.72 555.63,180.62 555.75,180.35 555.88,179.68 556,178.21 556.12,175.43 556.24,170.88 556.37,164.55 556.49,157.23 556.61,150.53 556.73,146.39 556.86,146.18 556.98,149.98 557.1,156.51 557.22,163.85 557.34,170.33 557.47,175.06 557.59,178 557.71,179.58 557.83,180.31 557.96,180.61 558.08,180.71 558.2,180.74 565.79,180.73 565.91,180.71 566.03,180.66 566.16,180.57 566.28,180.41 566.4,180.15 566.52,179.75 566.65,179.18 566.77,178.43 566.89,177.52 567.01,176.52 567.13,175.54 567.26,174.71 567.38,174.14 567.5,173.95 567.62,174.16 567.75,174.73 567.87,175.57 567.99,176.56 568.11,177.55 568.24,178.45 568.36,179.2 568.48,179.76 568.6,180.16 568.73,180.42 568.85,180.57 568.97,180.66 569.09,180.71 569.22,180.74 584.02,180.75 584.15,180.72 584.27,180.64 584.39,180.4 584.51,179.74 584.64,178.21 584.76,175.07 584.88,169.52 585,161.12 585.12,150.38 585.25,139.17 585.37,130.39 585.49,126.77 585.61,129.54 585.74,137.77 585.86,148.82 585.98,159.77 586.1,168.55 586.23,174.47 586.35,177.89 586.47,179.6 586.59,180.34 586.72,180.62 586.84,180.72 586.96,180.75 596.63,180.75 596.63,198.07 413.06,198.07" fill="#f9f9f9"/>
<polyline points="413.06,180.75 413.06,198.07 596.63,198.07 596.63,180.75" fill="none" stroke="#ff7070" stroke-width="1.0" opacity="0.85"/>
<polyline points="413.06,180.75 435.46,180.74 435.58,180.7 435.7,180.6 435.82,180.35 435.95,179.79 436.07,178.7 436.19,176.76 436.31,173.67 436.43,169.32 436.56,163.95 436.68,158.25 436.8,153.32 436.92,150.3 437.05,149.96 437.17,152.4 437.29,156.99 437.41,162.61 437.54,168.14 437.66,172.76 437.78,176.14 437.9,178.31 438.03,179.51 438.15,180.01 438.27,179.95 438.39,179.31 438.52,177.9 438.64,175.44 438.76,171.68 438.88,166.63 439,160.74 439.13,154.91 439.25,150.37 439.37,148.23 439.49,149.05 439.62,152.6 439.74,158 439.86,164 439.98,169.52 440.11,173.9 440.23,176.94 440.35,178.82 440.47,179.86 440.6,180.38 440.72,180.61 440.84,180.7 440.96,180.74 451.85,180.73 451.98,180.68 452.1,180.55 452.22,180.28 452.34,179.71 452.47,178.69 452.59,177.03 452.71,174.63 452.83,171.58 452.96,168.25 453.08,165.23 453.2,163.2 453.32,162.68 453.45,163.81 453.57,166.29 453.69,169.51 453.81,172.79 453.94,175.62 454.06,177.74 454.18,179.14 454.3,179.97 454.42,180.41 454.55,180.61 454.67,180.7 454.79,180.74 461.89,180.73 462.01,180.7 462.13,180.63 462.26,180.48 462.38,180.19 462.5,179.68 462.62,178.86 462.75,177.65 462.87,176.04 462.99,174.11 463.11,172.04 463.24,170.15 463.36,168.76 463.48,168.16 463.6,168.48 463.73,169.63 463.85,171.4 463.97,173.45 464.09,175.46 464.21,177.19 464.34,178.52 464.46,179.46 464.58,180.05 464.7,180.4 464.83,180.59 464.95,180.68 465.07,180.73 472.29,180.73 472.41,180.69 472.54,180.63 472.66,180.52 472.78,180.34 472.9,180.07 473.03,179.67 473.15,179.14 473.27,178.49 473.39,177.76 473.52,177.03 473.64,176.39 473.76,175.94 473.88,175.75 474.01,175.86 474.13,176.24 474.25,176.84 474.37,177.55 474.49,178.29 474.62,178.96 474.74,179.53 474.86,179.97 474.98,180.28 475.11,180.48 475.23,180.61 475.35,180.68 475.47,180.72 485.02,180.74 485.14,180.71 485.26,180.62 485.39,180.4 485.51,179.9 485.63,178.87 485.75,176.98 485.88,173.88 486,169.34 486.12,163.49 486.24,156.99 486.37,150.95 486.49,146.72 486.61,145.36 486.73,147.24 486.85,151.85 486.98,158.06 487.1,164.52 487.22,170.18 487.34,174.49 487.47,177.37 487.59,179.09 487.71,180.01 487.83,180.45 487.96,180.64 488.08,180.72 488.2,180.74 500.19,180.73 500.32,180.71 500.44,180.65 500.56,180.55 500.68,180.38 500.81,180.09 500.93,179.65 501.05,179.03 501.17,178.22 501.3,177.24 501.42,176.17 501.54,175.12 501.66,174.23 501.78,173.64 501.91,173.45 502.03,173.69 502.15,174.32 502.27,175.24 502.4,176.3 502.52,177.36 502.64,178.32 502.76,179.11 502.89,179.71 503.01,180.13 503.13,180.4 503.25,180.57 503.38,180.66 503.5,180.71 503.62,180.73 555.39,180.74 555.51,180.72 555.63,180.62 555.75,180.35 555.88,179.68 556,178.21 556.12,175.43 556.24,170.88 556.37,164.55 556.49,157.23 556.61,150.53 556.73,146.39 556.86,146.18 556.98,149.98 557.1,156.51 557.22,163.85 557.34,170.33 557.47,175.06 557.59,178 557.71,179.58 557.83,180.31 557.96,180.61 558.08,180.71 558.2,180.74 565.79,180.73 565.91,180.71 566.03,180.66 566.16,180.57 566.28,180.41 566.4,180.15 566.52,179.75 566.65,179.18 566.77,178.43 566.89,177.52 567.01,176.52 567.13,175.54 567.26,174.71 567.38,174.14 567.5,173.95 567.62,174.16 567.75,174.73 567.87,175.57 567.99,176.56 568.11,177.55 568.24,178.45 568.36,179.2 568.48,179.76 568.6,180.16 568.73,180.42 568.85,180.57 568.97,180.66 569.09,180.71 569.22,180.74 584.02,180.75 584.15,180.72 584.27,180.64 584.39,180.4 584.51,179.74 584.64,178.21 584.76,175.07 584.88,169.52 585,161.12 585.12,150.38 585.25,139.17 585.37,130.39 585.49,126.77 585.61,129.54 585.74,137.77 585.86,148.82 585.98,159.77 586.1,168.55 586.23,174.47 586.35,177.89 586.47,179.6 586.59,180.34 586.72,180.62 586.84,180.72 586.96,180.75 596.63,180.75" fill="none" stroke="#ff1010" stroke-width="1.3" stroke-linejoin="round"/>
<line x1="405.62" y1="206.19" x2="405.62" y2="111.85" stroke="#2a2a2a" stroke-width="1.1"/>
<line x1="405.62" y1="206.19" x2="592.94" y2="206.19" stroke="#2a2a2a" stroke-width="1.1"/>
<line x1="592.94" y1="206.19" x2="650.42" y2="71.69" stroke="#2a2a2a" stroke-width="0.9"/>
<line x1="405.62" y1="206.19" x2="401.82" y2="206.19" stroke="#2a2a2a" stroke-width="1"/>
<line x1="405.62" y1="197.62" x2="403.62" y2="197.62" stroke="#2a2a2a" stroke-width="1"/>
<line x1="405.62" y1="189.04" x2="401.82" y2="189.04" stroke="#2a2a2a" stroke-width="1"/>
<line x1="405.62" y1="180.46" x2="403.62" y2="180.46" stroke="#2a2a2a" stroke-width="1"/>
<line x1="405.62" y1="171.89" x2="401.82" y2="171.89" stroke="#2a2a2a" stroke-width="1"/>
<line x1="405.62" y1="163.31" x2="403.62" y2="163.31" stroke="#2a2a2a" stroke-width="1"/>
<line x1="405.62" y1="154.74" x2="401.82" y2="154.74" stroke="#2a2a2a" stroke-width="1"/>
<line x1="405.62" y1="146.16" x2="403.62" y2="146.16" stroke="#2a2a2a" stroke-width="1"/>
<line x1="405.62" y1="137.58" x2="401.82" y2="137.58" stroke="#2a2a2a" stroke-width="1"/>
<line x1="405.62" y1="129.01" x2="403.62" y2="129.01" stroke="#2a2a2a" stroke-width="1"/>
<line x1="405.62" y1="120.43" x2="401.82" y2="120.43" stroke="#2a2a2a" stroke-width="1"/>
<line x1="405.62" y1="111.85" x2="403.62" y2="111.85" stroke="#2a2a2a" stroke-width="1"/>
<line x1="405.62" y1="206.19" x2="405.62" y2="210.19" stroke="#2a2a2a" stroke-width="1"/>
<line x1="424.35" y1="206.19" x2="424.35" y2="208.19" stroke="#2a2a2a" stroke-width="1"/>
<line x1="443.08" y1="206.19" x2="443.08" y2="210.19" stroke="#2a2a2a" stroke-width="1"/>
<line x1="461.81" y1="206.19" x2="461.81" y2="208.19" stroke="#2a2a2a" stroke-width="1"/>
<line x1="480.55" y1="206.19" x2="480.55" y2="210.19" stroke="#2a2a2a" stroke-width="1"/>
<line x1="499.28" y1="206.19" x2="499.28" y2="208.19" stroke="#2a2a2a" stroke-width="1"/>
<line x1="518.01" y1="206.19" x2="518.01" y2="210.19" stroke="#2a2a2a" stroke-width="1"/>
<line x1="536.74" y1="206.19" x2="536.74" y2="208.19" stroke="#2a2a2a" stroke-width="1"/>
<line x1="555.48" y1="206.19" x2="555.48" y2="210.19" stroke="#2a2a2a" stroke-width="1"/>
<line x1="574.21" y1="206.19" x2="574.21" y2="208.19" stroke="#2a2a2a" stroke-width="1"/>
<line x1="592.94" y1="206.19" x2="592.94" y2="210.19" stroke="#2a2a2a" stroke-width="1"/>
<line x1="596.63" y1="197.56" x2="600.35" y2="197.56" stroke="#2a2a2a" stroke-width="0.9"/>
<line x1="603.65" y1="181.14" x2="607.23" y2="181.14" stroke="#2a2a2a" stroke-width="0.9"/>
<line x1="610.14" y1="165.95" x2="613.58" y2="165.95" stroke="#2a2a2a" stroke-width="0.9"/>
<line x1="616.16" y1="151.85" x2="619.48" y2="151.85" stroke="#2a2a2a" stroke-width="0.9"/>
<line x1="621.77" y1="138.74" x2="624.97" y2="138.74" stroke="#2a2a2a" stroke-width="0.9"/>
<line x1="626.99" y1="126.51" x2="630.09" y2="126.51" stroke="#2a2a2a" stroke-width="0.9"/>
<line x1="631.88" y1="115.08" x2="634.87" y2="115.08" stroke="#2a2a2a" stroke-width="0.9"/>
<line x1="636.45" y1="104.38" x2="639.35" y2="104.38" stroke="#2a2a2a" stroke-width="0.9"/>
<line x1="640.75" y1="94.32" x2="643.56" y2="94.32" stroke="#2a2a2a" stroke-width="0.9"/>
<line x1="644.79" y1="84.87" x2="647.52" y2="84.87" stroke="#2a2a2a" stroke-width="0.9"/>
<line x1="648.6" y1="75.96" x2="651.25" y2="75.96" stroke="#2a2a2a" stroke-width="0.9"/>
<line x1="600.21" y1="189.19" x2="602.03" y2="189.19" stroke="#2a2a2a" stroke-width="0.8"/>
<line x1="606.96" y1="173.4" x2="608.71" y2="173.4" stroke="#2a2a2a" stroke-width="0.8"/>
<line x1="613.21" y1="158.77" x2="614.9" y2="158.77" stroke="#2a2a2a" stroke-width="0.8"/>
<line x1="619.01" y1="145.18" x2="620.65" y2="145.18" stroke="#2a2a2a" stroke-width="0.8"/>
<line x1="624.42" y1="132.52" x2="626" y2="132.52" stroke="#2a2a2a" stroke-width="0.8"/>
<line x1="629.48" y1="120.7" x2="631" y2="120.7" stroke="#2a2a2a" stroke-width="0.8"/>
<line x1="634.2" y1="109.64" x2="635.68" y2="109.64" stroke="#2a2a2a" stroke-width="0.8"/>
<line x1="638.64" y1="99.27" x2="640.06" y2="99.27" stroke="#2a2a2a" stroke-width="0.8"/>
<line x1="642.8" y1="89.52" x2="644.19" y2="89.52" stroke="#2a2a2a" stroke-width="0.8"/>
<line x1="646.72" y1="80.35" x2="648.07" y2="80.35" stroke="#2a2a2a" stroke-width="0.8"/>
<g transform="translate(602.61,200.6)" font-family="Liberation Serif" font-size="8.82" fill="#404040" stroke="#404040" stroke-width="0.15" filter="url(#tb)"><text transform="translate(0.08,0) scale(0.586,1)">m</text><text transform="translate(5.32,0) scale(0.778,1)">i</text><text transform="translate(8.75,0) scale(0.778,1)">x</text><text transform="translate(13.69,0) scale(0.778,1)">t</text><text transform="translate(17.11,0) scale(0.778,1)">u</text><text transform="translate(21.87,0) scale(0.778,1)">r</text><text transform="translate(25.68,0) scale(0.778,1)">e</text></g>
<g transform="translate(609.39,184.06)" font-family="Liberation Serif" font-size="8.48" fill="#404040" stroke="#404040" stroke-width="0.14" filter="url(#tb)"><text transform="translate(0.08,0) scale(0.631,1)">A</text><text transform="translate(4.75,0) scale(0.778,1)">s</text><text transform="translate(8.59,0) scale(0.778,1)">c</text><text transform="translate(12.43,0) scale(0.778,1)">o</text><text transform="translate(17,0) scale(0.778,1)">r</text><text transform="translate(20.47,0) scale(0.778,1)">b</text><text transform="translate(25.22,0) scale(0.778,1)">i</text><text transform="translate(28.7,0) scale(0.778,1)">c</text><text transform="translate(36.74,0) scale(0.778,1)">a</text><text transform="translate(40.76,0) scale(0.778,1)">c</text><text transform="translate(45.33,0) scale(0.778,1)">i</text><text transform="translate(48.62,0) scale(0.778,1)">d</text></g>
<g transform="translate(615.67,168.77)" font-family="Liberation Serif" font-size="8.16" fill="#404040" stroke="#404040" stroke-width="0.14" filter="url(#tb)"><text transform="translate(0.35,0) scale(0.778,1)">o</text><text transform="translate(4.75,0) scale(0.778,1)">r</text><text transform="translate(8.09,0) scale(0.778,1)">o</text><text transform="translate(12.67,0) scale(0.778,1)">t</text><text transform="translate(16.54,0) scale(0.778,1)">i</text><text transform="translate(19.88,0) scale(0.778,1)">c</text><text transform="translate(27.62,0) scale(0.778,1)">a</text><text transform="translate(31.49,0) scale(0.778,1)">c</text><text transform="translate(35.89,0) scale(0.778,1)">i</text><text transform="translate(39.05,0) scale(0.778,1)">d</text></g>
<g transform="translate(621.49,154.57)" font-family="Liberation Serif" font-size="7.86" fill="#404040" stroke="#404040" stroke-width="0.13" filter="url(#tb)"><text transform="translate(0.34,0) scale(0.778,1)">n</text><text transform="translate(4.75,0) scale(0.778,1)">i</text><text transform="translate(7.97,0) scale(0.778,1)">c</text><text transform="translate(11.53,0) scale(0.778,1)">o</text><text transform="translate(15.94,0) scale(0.778,1)">t</text><text transform="translate(19.67,0) scale(0.778,1)">i</text><text transform="translate(22.72,0) scale(0.778,1)">n</text><text transform="translate(27.13,0) scale(0.778,1)">i</text><text transform="translate(30.35,0) scale(0.778,1)">c</text><text transform="translate(37.82,0) scale(0.778,1)">a</text><text transform="translate(41.55,0) scale(0.778,1)">c</text><text transform="translate(45.79,0) scale(0.778,1)">i</text><text transform="translate(48.84,0) scale(0.778,1)">d</text></g>
<g transform="translate(626.91,141.37)" font-family="Liberation Serif" font-size="7.59" fill="#404040" stroke="#404040" stroke-width="0.13" filter="url(#tb)"><text transform="translate(0.32,0) scale(0.778,1)">v</text><text transform="translate(4.58,0) scale(0.778,1)">i</text><text transform="translate(8.18,0) scale(0.778,1)">t</text><text transform="translate(11.29,0) scale(0.778,1)">a</text><text transform="translate(14.47,0) scale(0.586,1)">m</text><text transform="translate(18.98,0) scale(0.778,1)">i</text><text transform="translate(21.93,0) scale(0.778,1)">n</text><text transform="translate(28.88,0) scale(0.683,1)">B</text><text transform="translate(32.73,0) scale(0.778,1)">1</text></g>
<g transform="translate(631.96,129.06)" font-family="Liberation Serif" font-size="7.33" fill="#404040" stroke="#404040" stroke-width="0.12" filter="url(#tb)"><text transform="translate(0.31,0) scale(0.778,1)">v</text><text transform="translate(4.43,0) scale(0.778,1)">i</text><text transform="translate(7.91,0) scale(0.778,1)">t</text><text transform="translate(10.91,0) scale(0.778,1)">a</text><text transform="translate(13.99,0) scale(0.586,1)">m</text><text transform="translate(18.34,0) scale(0.778,1)">i</text><text transform="translate(21.19,0) scale(0.778,1)">n</text><text transform="translate(27.9,0) scale(0.683,1)">B</text><text transform="translate(31.63,0) scale(0.778,1)">6</text></g>
<g transform="translate(636.69,117.55)" font-family="Liberation Serif" font-size="7.09" fill="#404040" stroke="#404040" stroke-width="0.12" filter="url(#tb)"><text transform="translate(0.46,0) scale(0.778,1)">a</text><text transform="translate(3.67,0) scale(0.778,1)">d</text><text transform="translate(7.19,0) scale(0.778,1)">e</text><text transform="translate(10.4,0) scale(0.778,1)">n</text><text transform="translate(14.38,0) scale(0.778,1)">i</text><text transform="translate(17.13,0) scale(0.778,1)">n</text><text transform="translate(20.65,0) scale(0.778,1)">e</text></g>
<g transform="translate(641.11,106.77)" font-family="Liberation Serif" font-size="6.87" fill="#404040" stroke="#404040" stroke-width="0.11" filter="url(#tb)"><text transform="translate(0.29,0) scale(0.778,1)">n</text><text transform="translate(4.15,0) scale(0.778,1)">i</text><text transform="translate(6.96,0) scale(0.778,1)">c</text><text transform="translate(10.07,0) scale(0.778,1)">o</text><text transform="translate(13.93,0) scale(0.778,1)">t</text><text transform="translate(17.19,0) scale(0.778,1)">i</text><text transform="translate(19.85,0) scale(0.778,1)">n</text><text transform="translate(23.26,0) scale(0.778,1)">a</text><text transform="translate(26.14,0) scale(0.586,1)">m</text><text transform="translate(30.22,0) scale(0.778,1)">i</text><text transform="translate(32.89,0) scale(0.778,1)">d</text><text transform="translate(36.3,0) scale(0.778,1)">e</text></g>
<g transform="translate(645.26,96.64)" font-family="Liberation Serif" font-size="6.66" fill="#404040" stroke="#404040" stroke-width="0.11" filter="url(#tb)"><text transform="translate(0.72,0) scale(0.778,1)">f</text><text transform="translate(3.44,0) scale(0.778,1)">o</text><text transform="translate(7.18,0) scale(0.778,1)">l</text><text transform="translate(10.34,0) scale(0.778,1)">i</text><text transform="translate(13.07,0) scale(0.778,1)">c</text><text transform="translate(19.39,0) scale(0.778,1)">a</text><text transform="translate(22.55,0) scale(0.778,1)">c</text><text transform="translate(26.14,0) scale(0.778,1)">i</text><text transform="translate(28.72,0) scale(0.778,1)">d</text></g>
<g transform="translate(649.17,87.12)" font-family="Liberation Serif" font-size="6.46" fill="#404040" stroke="#404040" stroke-width="0.11" filter="url(#tb)"><text transform="translate(0.28,0) scale(0.778,1)">v</text><text transform="translate(3.9,0) scale(0.778,1)">i</text><text transform="translate(6.97,0) scale(0.778,1)">t</text><text transform="translate(9.62,0) scale(0.778,1)">a</text><text transform="translate(12.33,0) scale(0.586,1)">m</text><text transform="translate(16.17,0) scale(0.778,1)">i</text><text transform="translate(18.67,0) scale(0.778,1)">n</text><text transform="translate(24.59,0) scale(0.683,1)">B</text><text transform="translate(27.87,0) scale(0.778,1)">1</text><text transform="translate(30.94,0) scale(0.778,1)">2</text></g>
<g transform="translate(652.85,78.15)" font-family="Liberation Serif" font-size="6.28" fill="#404040" stroke="#404040" stroke-width="0.1" filter="url(#tb)"><text transform="translate(0.27,0) scale(0.778,1)">v</text><text transform="translate(3.79,0) scale(0.778,1)">i</text><text transform="translate(6.77,0) scale(0.778,1)">t</text><text transform="translate(9.34,0) scale(0.778,1)">a</text><text transform="translate(11.97,0) scale(0.586,1)">m</text><text transform="translate(15.7,0) scale(0.778,1)">i</text><text transform="translate(18.13,0) scale(0.778,1)">n</text><text transform="translate(23.88,0) scale(0.683,1)">B</text><text transform="translate(27.07,0) scale(0.778,1)">2</text></g>
<g transform="translate(399.12,124.13)" font-family="Liberation Serif" font-size="8.5" fill="#2e2e2e" stroke="#2e2e2e" stroke-width="0.3" filter="url(#tb)"><text transform="translate(-17.02,0) scale(0.876,1)">0</text><text transform="translate(-12.9,0) scale(0.876,1)">.</text><text transform="translate(-8.36,0) scale(0.876,1)">0</text><text transform="translate(-4.03,0) scale(0.876,1)">8</text></g>
<g transform="translate(399.12,141.28)" font-family="Liberation Serif" font-size="8.5" fill="#2e2e2e" stroke="#2e2e2e" stroke-width="0.3" filter="url(#tb)"><text transform="translate(-17.02,0) scale(0.876,1)">0</text><text transform="translate(-12.9,0) scale(0.876,1)">.</text><text transform="translate(-8.36,0) scale(0.876,1)">0</text><text transform="translate(-4.03,0) scale(0.876,1)">6</text></g>
<g transform="translate(399.12,158.44)" font-family="Liberation Serif" font-size="8.5" fill="#2e2e2e" stroke="#2e2e2e" stroke-width="0.3" filter="url(#tb)"><text transform="translate(-17.02,0) scale(0.876,1)">0</text><text transform="translate(-12.9,0) scale(0.876,1)">.</text><text transform="translate(-8.36,0) scale(0.876,1)">0</text><text transform="translate(-4.03,0) scale(0.876,1)">4</text></g>
<g transform="translate(399.12,175.59)" font-family="Liberation Serif" font-size="8.5" fill="#2e2e2e" stroke="#2e2e2e" stroke-width="0.3" filter="url(#tb)"><text transform="translate(-17.02,0) scale(0.876,1)">0</text><text transform="translate(-12.9,0) scale(0.876,1)">.</text><text transform="translate(-8.36,0) scale(0.876,1)">0</text><text transform="translate(-4.03,0) scale(0.876,1)">2</text></g>
<g transform="translate(399.12,192.74)" font-family="Liberation Serif" font-size="8.5" fill="#2e2e2e" stroke="#2e2e2e" stroke-width="0.3" filter="url(#tb)"><text transform="translate(-17.02,0) scale(0.876,1)">0</text><text transform="translate(-12.9,0) scale(0.876,1)">.</text><text transform="translate(-8.36,0) scale(0.876,1)">0</text><text transform="translate(-4.03,0) scale(0.876,1)">0</text></g>
<g transform="translate(399.12,209.89)" font-family="Liberation Serif" font-size="8.5" fill="#2e2e2e" stroke="#2e2e2e" stroke-width="0.3" filter="url(#tb)"><text transform="translate(-21.35,0) scale(0.876,1)">–</text><text transform="translate(-17.02,0) scale(0.876,1)">0</text><text transform="translate(-12.9,0) scale(0.876,1)">.</text><text transform="translate(-8.36,0) scale(0.876,1)">0</text><text transform="translate(-4.03,0) scale(0.876,1)">2</text></g>
<g transform="translate(405.62,219.89)" font-family="Liberation Serif" font-size="8.2" fill="#2e2e2e" stroke="#2e2e2e" stroke-width="0.3" filter="url(#tb)"><text transform="translate(-1.84,0) scale(0.900,1)">0</text></g>
<g transform="translate(443.08,219.89)" font-family="Liberation Serif" font-size="8.2" fill="#2e2e2e" stroke="#2e2e2e" stroke-width="0.3" filter="url(#tb)"><text transform="translate(-1.84,0) scale(0.900,1)">5</text></g>
<g transform="translate(480.55,219.89)" font-family="Liberation Serif" font-size="8.2" fill="#2e2e2e" stroke="#2e2e2e" stroke-width="0.3" filter="url(#tb)"><text transform="translate(-3.89,0) scale(0.900,1)">1</text><text transform="translate(0.2,0) scale(0.900,1)">0</text></g>
<g transform="translate(518.01,219.89)" font-family="Liberation Serif" font-size="8.2" fill="#2e2e2e" stroke="#2e2e2e" stroke-width="0.3" filter="url(#tb)"><text transform="translate(-3.89,0) scale(0.900,1)">1</text><text transform="translate(0.2,0) scale(0.900,1)">5</text></g>
<g transform="translate(555.48,219.89)" font-family="Liberation Serif" font-size="8.2" fill="#2e2e2e" stroke="#2e2e2e" stroke-width="0.3" filter="url(#tb)"><text transform="translate(-3.89,0) scale(0.900,1)">2</text><text transform="translate(0.2,0) scale(0.900,1)">0</text></g>
<g transform="translate(592.94,219.89)" font-family="Liberation Serif" font-size="8.2" fill="#2e2e2e" stroke="#2e2e2e" stroke-width="0.3" filter="url(#tb)"><text transform="translate(-3.89,0) scale(0.900,1)">2</text><text transform="translate(0.2,0) scale(0.900,1)">5</text></g>
<text x="407.7" y="80" font-family="Liberation Serif" font-size="10.6" textLength="15.4" lengthAdjust="spacingAndGlyphs" fill="#222">266</text>
<text x="423.5" y="80" font-family="Liberation Serif" font-size="10.28" textLength="10.4" lengthAdjust="spacingAndGlyphs" fill="#222">nm</text>
<text transform="translate(375,198) rotate(-90)" x="0" y="0" font-family="Liberation Serif" font-size="11.8" textLength="72.8" lengthAdjust="spacingAndGlyphs" fill="#4a4a4a" filter="url(#tb)">Absorbance (AU)</text>
<g transform="translate(558.7,233.6)" font-family="Liberation Serif" font-size="11.3" fill="#222" stroke="#222" stroke-width="0.12" filter="url(#tb)"><text transform="translate(0.1,0) scale(0.707,1)">T</text><text transform="translate(6.24,0) scale(0.881,1)">i</text><text transform="translate(10.26,0) scale(0.555,1)">m</text><text transform="translate(15.57,0) scale(0.881,1)">e</text><text transform="translate(27.06,0) scale(0.881,1)">(</text><text transform="translate(30.58,0) scale(0.555,1)">m</text><text transform="translate(36.72,0) scale(0.881,1)">i</text><text transform="translate(40.74,0) scale(0.863,1)">n</text><text transform="translate(47.24,0) scale(0.881,1)">)</text></g>
</svg>
</body></html>
